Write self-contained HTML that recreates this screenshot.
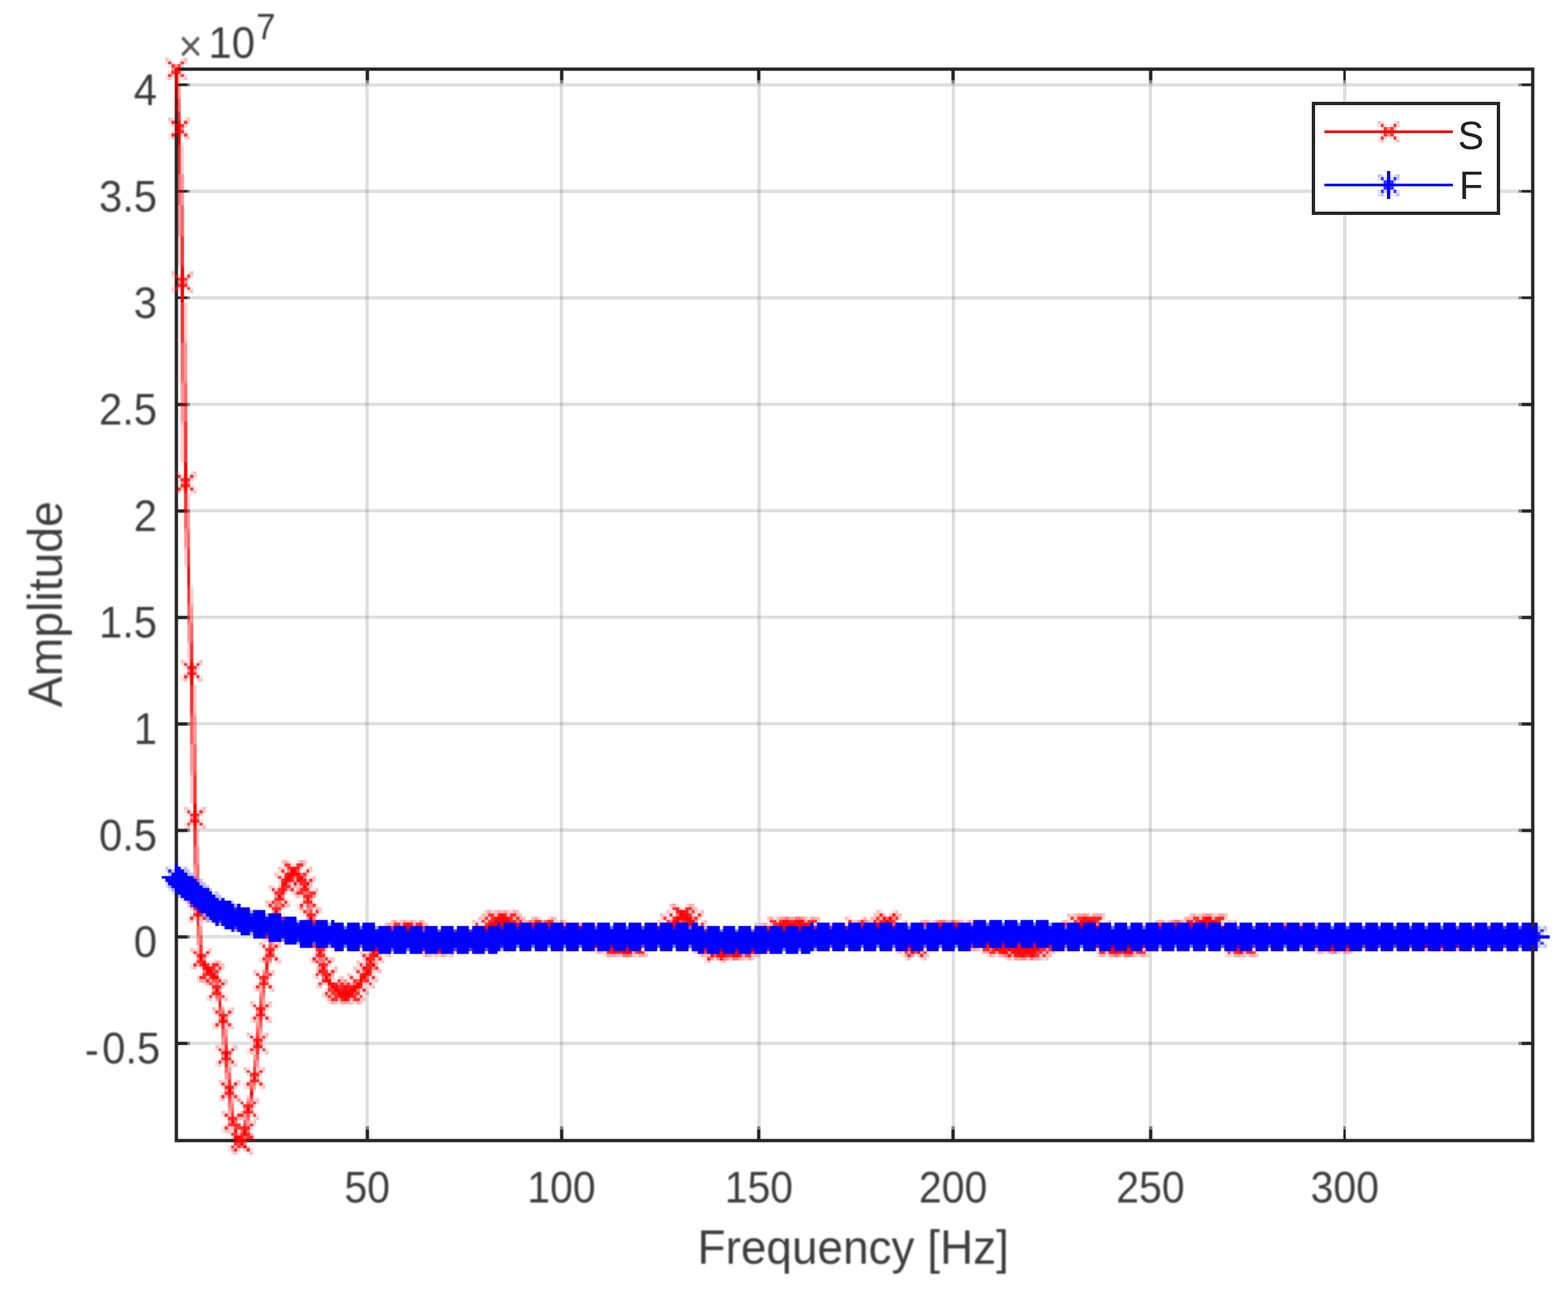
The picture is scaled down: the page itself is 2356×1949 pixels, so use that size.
<!DOCTYPE html>
<html lang="en">
<head>
<meta charset="utf-8">
<title>Amplitude vs Frequency</title>
<style>
html,body{margin:0;padding:0;background:#fff;}
body{width:2356px;height:1949px;overflow:hidden;}
svg{display:block;position:absolute;left:0;top:0;}
text{font-family:"Liberation Sans",Arial,Helvetica,sans-serif;}
.tk{font-size:62.8px;fill:#3e3e3e;}
.lb{font-size:69px;fill:#3e3e3e;}
.lg{font-size:56.5px;fill:#222;}
</style>
</head>
<body>
<svg width="2356" height="1949" viewBox="0 0 2356 1949">
<defs>
<filter id="soft" x="-2%" y="-2%" width="104%" height="104%" color-interpolation-filters="sRGB"><feGaussianBlur stdDeviation="0.55"/></filter>
<filter id="softt" x="-10%" y="-10%" width="120%" height="120%" color-interpolation-filters="sRGB"><feGaussianBlur stdDeviation="0.9"/></filter>
<g id="mx"><rect x="-3" y="-3" width="1" height="1" fill="#ff0000" opacity="0.25"/><rect x="-2" y="-3" width="1" height="1" fill="#ff0000" opacity="0.12"/><rect x="2" y="-3" width="1" height="1" fill="#ff0000" opacity="0.12"/><rect x="3" y="-3" width="1" height="1" fill="#ff0000" opacity="0.25"/><rect x="-3" y="-2" width="1" height="1" fill="#ff0000" opacity="0.12"/><rect x="-2" y="-2" width="1" height="1" fill="#ff0000" opacity="0.78"/><rect x="-1" y="-2" width="1" height="1" fill="#ff0000" opacity="0.12"/><rect x="1" y="-2" width="1" height="1" fill="#ff0000" opacity="0.12"/><rect x="2" y="-2" width="1" height="1" fill="#ff0000" opacity="0.8"/><rect x="3" y="-2" width="1" height="1" fill="#ff0000" opacity="0.2"/><rect x="-2" y="-1" width="1" height="1" fill="#ff0000" opacity="0.12"/><rect x="-1" y="-1" width="1" height="1" fill="#ff0000" opacity="0.8"/><rect x="0" y="-1" width="1" height="1" fill="#ff0000" opacity="0.45"/><rect x="1" y="-1" width="1" height="1" fill="#ff0000" opacity="0.8"/><rect x="2" y="-1" width="1" height="1" fill="#ff0000" opacity="0.2"/><rect x="-1" y="0" width="1" height="1" fill="#ff0000" opacity="0.45"/><rect x="0" y="0" width="1" height="1" fill="#ff0000" opacity="1"/><rect x="1" y="0" width="1" height="1" fill="#ff0000" opacity="0.45"/><rect x="-2" y="1" width="1" height="1" fill="#ff0000" opacity="0.12"/><rect x="-1" y="1" width="1" height="1" fill="#ff0000" opacity="0.8"/><rect x="0" y="1" width="1" height="1" fill="#ff0000" opacity="0.45"/><rect x="1" y="1" width="1" height="1" fill="#ff0000" opacity="0.8"/><rect x="2" y="1" width="1" height="1" fill="#ff0000" opacity="0.12"/><rect x="-3" y="2" width="1" height="1" fill="#ff0000" opacity="0.12"/><rect x="-2" y="2" width="1" height="1" fill="#ff0000" opacity="0.8"/><rect x="-1" y="2" width="1" height="1" fill="#ff0000" opacity="0.2"/><rect x="1" y="2" width="1" height="1" fill="#ff0000" opacity="0.12"/><rect x="2" y="2" width="1" height="1" fill="#ff0000" opacity="0.78"/><rect x="3" y="2" width="1" height="1" fill="#ff0000" opacity="0.12"/><rect x="-3" y="3" width="1" height="1" fill="#ff0000" opacity="0.12"/><rect x="-2" y="3" width="1" height="1" fill="#ff0000" opacity="0.25"/><rect x="2" y="3" width="1" height="1" fill="#ff0000" opacity="0.12"/><rect x="3" y="3" width="1" height="1" fill="#ff0000" opacity="0.25"/></g>
<g id="ms"><rect x="0" y="-4" width="1" height="9" fill="#0000ff"/><rect x="-4" y="0" width="9" height="1" fill="#0000ff"/><rect x="-3" y="-3" width="1" height="1" fill="#0000ff" opacity="0.25"/><rect x="-2" y="-3" width="1" height="1" fill="#0000ff" opacity="0.12"/><rect x="2" y="-3" width="1" height="1" fill="#0000ff" opacity="0.12"/><rect x="3" y="-3" width="1" height="1" fill="#0000ff" opacity="0.25"/><rect x="-3" y="-2" width="1" height="1" fill="#0000ff" opacity="0.12"/><rect x="-2" y="-2" width="1" height="1" fill="#0000ff" opacity="0.78"/><rect x="-1" y="-2" width="1" height="1" fill="#0000ff" opacity="0.12"/><rect x="1" y="-2" width="1" height="1" fill="#0000ff" opacity="0.12"/><rect x="2" y="-2" width="1" height="1" fill="#0000ff" opacity="0.8"/><rect x="3" y="-2" width="1" height="1" fill="#0000ff" opacity="0.2"/><rect x="-2" y="-1" width="1" height="1" fill="#0000ff" opacity="0.12"/><rect x="-1" y="-1" width="1" height="1" fill="#0000ff" opacity="0.8"/><rect x="0" y="-1" width="1" height="1" fill="#0000ff" opacity="0.45"/><rect x="1" y="-1" width="1" height="1" fill="#0000ff" opacity="0.8"/><rect x="2" y="-1" width="1" height="1" fill="#0000ff" opacity="0.2"/><rect x="-1" y="0" width="1" height="1" fill="#0000ff" opacity="0.45"/><rect x="0" y="0" width="1" height="1" fill="#0000ff" opacity="1"/><rect x="1" y="0" width="1" height="1" fill="#0000ff" opacity="0.45"/><rect x="-2" y="1" width="1" height="1" fill="#0000ff" opacity="0.12"/><rect x="-1" y="1" width="1" height="1" fill="#0000ff" opacity="0.8"/><rect x="0" y="1" width="1" height="1" fill="#0000ff" opacity="0.45"/><rect x="1" y="1" width="1" height="1" fill="#0000ff" opacity="0.8"/><rect x="2" y="1" width="1" height="1" fill="#0000ff" opacity="0.12"/><rect x="-3" y="2" width="1" height="1" fill="#0000ff" opacity="0.12"/><rect x="-2" y="2" width="1" height="1" fill="#0000ff" opacity="0.8"/><rect x="-1" y="2" width="1" height="1" fill="#0000ff" opacity="0.2"/><rect x="1" y="2" width="1" height="1" fill="#0000ff" opacity="0.12"/><rect x="2" y="2" width="1" height="1" fill="#0000ff" opacity="0.78"/><rect x="3" y="2" width="1" height="1" fill="#0000ff" opacity="0.12"/><rect x="-3" y="3" width="1" height="1" fill="#0000ff" opacity="0.12"/><rect x="-2" y="3" width="1" height="1" fill="#0000ff" opacity="0.25"/><rect x="2" y="3" width="1" height="1" fill="#0000ff" opacity="0.12"/><rect x="3" y="3" width="1" height="1" fill="#0000ff" opacity="0.25"/></g>
</defs>
<rect x="0" y="0" width="2356" height="1949" fill="#fff"/>
<g filter="url(#soft)">
<g transform="translate(262.3,101.5) scale(4.7075)" shape-rendering="crispEdges">
<rect x="61" y="1" width="1" height="341" fill="#262626" opacity="0.15"/>
<rect x="123" y="1" width="1" height="341" fill="#262626" opacity="0.15"/>
<rect x="186" y="1" width="1" height="341" fill="#262626" opacity="0.15"/>
<rect x="248" y="1" width="1" height="341" fill="#262626" opacity="0.15"/>
<rect x="311" y="1" width="1" height="341" fill="#262626" opacity="0.15"/>
<rect x="373" y="1" width="1" height="341" fill="#262626" opacity="0.15"/>
<rect x="1" y="5" width="432" height="1" fill="#262626" opacity="0.15"/>
<rect x="1" y="39" width="432" height="1" fill="#262626" opacity="0.15"/>
<rect x="1" y="73" width="432" height="1" fill="#262626" opacity="0.15"/>
<rect x="1" y="107" width="432" height="1" fill="#262626" opacity="0.15"/>
<rect x="1" y="141" width="432" height="1" fill="#262626" opacity="0.15"/>
<rect x="1" y="175" width="432" height="1" fill="#262626" opacity="0.15"/>
<rect x="1" y="209" width="432" height="1" fill="#262626" opacity="0.15"/>
<rect x="1" y="243" width="432" height="1" fill="#262626" opacity="0.15"/>
<rect x="1" y="277" width="432" height="1" fill="#262626" opacity="0.15"/>
<rect x="1" y="311" width="432" height="1" fill="#262626" opacity="0.15"/>
<rect x="0" y="0" width="434" height="1" fill="#262626"/>
<rect x="0" y="342" width="434" height="1" fill="#262626"/>
<rect x="0" y="0" width="1" height="343" fill="#262626"/>
<rect x="433" y="0" width="1" height="343" fill="#262626"/>
<rect x="61" y="1" width="1" height="3" fill="#262626"/>
<rect x="61" y="4" width="1" height="1" fill="#262626" opacity=".5"/>
<rect x="61" y="339" width="1" height="3" fill="#262626"/>
<rect x="61" y="338" width="1" height="1" fill="#262626" opacity=".5"/>
<rect x="123" y="1" width="1" height="3" fill="#262626"/>
<rect x="123" y="4" width="1" height="1" fill="#262626" opacity=".5"/>
<rect x="123" y="339" width="1" height="3" fill="#262626"/>
<rect x="123" y="338" width="1" height="1" fill="#262626" opacity=".5"/>
<rect x="186" y="1" width="1" height="3" fill="#262626"/>
<rect x="186" y="4" width="1" height="1" fill="#262626" opacity=".5"/>
<rect x="186" y="339" width="1" height="3" fill="#262626"/>
<rect x="186" y="338" width="1" height="1" fill="#262626" opacity=".5"/>
<rect x="248" y="1" width="1" height="3" fill="#262626"/>
<rect x="248" y="4" width="1" height="1" fill="#262626" opacity=".5"/>
<rect x="248" y="339" width="1" height="3" fill="#262626"/>
<rect x="248" y="338" width="1" height="1" fill="#262626" opacity=".5"/>
<rect x="311" y="1" width="1" height="3" fill="#262626"/>
<rect x="311" y="4" width="1" height="1" fill="#262626" opacity=".5"/>
<rect x="311" y="339" width="1" height="3" fill="#262626"/>
<rect x="311" y="338" width="1" height="1" fill="#262626" opacity=".5"/>
<rect x="373" y="1" width="1" height="3" fill="#262626"/>
<rect x="373" y="4" width="1" height="1" fill="#262626" opacity=".5"/>
<rect x="373" y="339" width="1" height="3" fill="#262626"/>
<rect x="373" y="338" width="1" height="1" fill="#262626" opacity=".5"/>
<rect x="1" y="5" width="3" height="1" fill="#262626"/>
<rect x="4" y="5" width="1" height="1" fill="#262626" opacity=".5"/>
<rect x="430" y="5" width="3" height="1" fill="#262626"/>
<rect x="429" y="5" width="1" height="1" fill="#262626" opacity=".5"/>
<rect x="1" y="39" width="3" height="1" fill="#262626"/>
<rect x="4" y="39" width="1" height="1" fill="#262626" opacity=".5"/>
<rect x="430" y="39" width="3" height="1" fill="#262626"/>
<rect x="429" y="39" width="1" height="1" fill="#262626" opacity=".5"/>
<rect x="1" y="73" width="3" height="1" fill="#262626"/>
<rect x="4" y="73" width="1" height="1" fill="#262626" opacity=".5"/>
<rect x="430" y="73" width="3" height="1" fill="#262626"/>
<rect x="429" y="73" width="1" height="1" fill="#262626" opacity=".5"/>
<rect x="1" y="107" width="3" height="1" fill="#262626"/>
<rect x="4" y="107" width="1" height="1" fill="#262626" opacity=".5"/>
<rect x="430" y="107" width="3" height="1" fill="#262626"/>
<rect x="429" y="107" width="1" height="1" fill="#262626" opacity=".5"/>
<rect x="1" y="141" width="3" height="1" fill="#262626"/>
<rect x="4" y="141" width="1" height="1" fill="#262626" opacity=".5"/>
<rect x="430" y="141" width="3" height="1" fill="#262626"/>
<rect x="429" y="141" width="1" height="1" fill="#262626" opacity=".5"/>
<rect x="1" y="175" width="3" height="1" fill="#262626"/>
<rect x="4" y="175" width="1" height="1" fill="#262626" opacity=".5"/>
<rect x="430" y="175" width="3" height="1" fill="#262626"/>
<rect x="429" y="175" width="1" height="1" fill="#262626" opacity=".5"/>
<rect x="1" y="209" width="3" height="1" fill="#262626"/>
<rect x="4" y="209" width="1" height="1" fill="#262626" opacity=".5"/>
<rect x="430" y="209" width="3" height="1" fill="#262626"/>
<rect x="429" y="209" width="1" height="1" fill="#262626" opacity=".5"/>
<rect x="1" y="243" width="3" height="1" fill="#262626"/>
<rect x="4" y="243" width="1" height="1" fill="#262626" opacity=".5"/>
<rect x="430" y="243" width="3" height="1" fill="#262626"/>
<rect x="429" y="243" width="1" height="1" fill="#262626" opacity=".5"/>
<rect x="1" y="277" width="3" height="1" fill="#262626"/>
<rect x="4" y="277" width="1" height="1" fill="#262626" opacity=".5"/>
<rect x="430" y="277" width="3" height="1" fill="#262626"/>
<rect x="429" y="277" width="1" height="1" fill="#262626" opacity=".5"/>
<rect x="1" y="311" width="3" height="1" fill="#262626"/>
<rect x="4" y="311" width="1" height="1" fill="#262626" opacity=".5"/>
<rect x="430" y="311" width="3" height="1" fill="#262626"/>
<rect x="429" y="311" width="1" height="1" fill="#262626" opacity=".5"/>
<rect x="0" y="0" width="1" height="1" fill="#f00" opacity="0.9"/>
<rect x="0" y="1" width="1" height="1" fill="#f00"/>
<rect x="0" y="2" width="1" height="1" fill="#f00" opacity="0.9"/>
<rect x="0" y="3" width="1" height="3" fill="#f00" opacity="0.8"/>
<rect x="0" y="6" width="1" height="4" fill="#f00" opacity="0.6"/>
<rect x="0" y="10" width="1" height="4" fill="#f00" opacity="0.4"/>
<rect x="0" y="14" width="1" height="3" fill="#f00" opacity="0.2"/>
<rect x="0" y="17" width="1" height="1" fill="#f00" opacity="0.1"/>
<rect x="1" y="2" width="1" height="1" fill="#f00" opacity="0.1"/>
<rect x="1" y="3" width="1" height="3" fill="#f00" opacity="0.2"/>
<rect x="1" y="6" width="1" height="4" fill="#f00" opacity="0.4"/>
<rect x="1" y="10" width="1" height="4" fill="#f00" opacity="0.6"/>
<rect x="1" y="14" width="1" height="3" fill="#f00" opacity="0.8"/>
<rect x="1" y="17" width="1" height="1" fill="#f00" opacity="0.9"/>
<rect x="1" y="18" width="1" height="6" fill="#f00"/>
<rect x="1" y="24" width="1" height="1" fill="#f00" opacity="0.9"/>
<rect x="1" y="25" width="1" height="9" fill="#f00" opacity="0.8"/>
<rect x="1" y="34" width="1" height="10" fill="#f00" opacity="0.6"/>
<rect x="1" y="44" width="1" height="10" fill="#f00" opacity="0.4"/>
<rect x="1" y="54" width="1" height="9" fill="#f00" opacity="0.2"/>
<rect x="1" y="63" width="1" height="1" fill="#f00" opacity="0.1"/>
<rect x="2" y="24" width="1" height="1" fill="#f00" opacity="0.1"/>
<rect x="2" y="25" width="1" height="9" fill="#f00" opacity="0.2"/>
<rect x="2" y="34" width="1" height="10" fill="#f00" opacity="0.4"/>
<rect x="2" y="44" width="1" height="10" fill="#f00" opacity="0.6"/>
<rect x="2" y="54" width="1" height="9" fill="#f00" opacity="0.8"/>
<rect x="2" y="63" width="1" height="1" fill="#f00" opacity="0.9"/>
<rect x="2" y="64" width="1" height="11" fill="#f00"/>
<rect x="2" y="75" width="1" height="13" fill="#f00" opacity="0.8"/>
<rect x="2" y="88" width="1" height="12" fill="#f00" opacity="0.6"/>
<rect x="2" y="100" width="1" height="1" fill="#f00" opacity="0.5"/>
<rect x="2" y="101" width="1" height="12" fill="#f00" opacity="0.4"/>
<rect x="2" y="113" width="1" height="1" fill="#f00" opacity="0.3"/>
<rect x="2" y="114" width="1" height="12" fill="#f00" opacity="0.2"/>
<rect x="3" y="75" width="1" height="12" fill="#f00" opacity="0.2"/>
<rect x="3" y="87" width="1" height="1" fill="#f00" opacity="0.3"/>
<rect x="3" y="88" width="1" height="12" fill="#f00" opacity="0.4"/>
<rect x="3" y="100" width="1" height="1" fill="#f00" opacity="0.5"/>
<rect x="3" y="101" width="1" height="12" fill="#f00" opacity="0.6"/>
<rect x="3" y="113" width="1" height="13" fill="#f00" opacity="0.8"/>
<rect x="3" y="126" width="1" height="9" fill="#f00"/>
<rect x="3" y="135" width="1" height="1" fill="#f00" opacity="0.9"/>
<rect x="3" y="136" width="1" height="5" fill="#f00" opacity="0.8"/>
<rect x="3" y="141" width="1" height="1" fill="#f00" opacity="0.7"/>
<rect x="3" y="142" width="1" height="5" fill="#f00" opacity="0.6"/>
<rect x="3" y="147" width="1" height="1" fill="#f00" opacity="0.5"/>
<rect x="3" y="148" width="1" height="5" fill="#f00" opacity="0.4"/>
<rect x="3" y="153" width="1" height="1" fill="#f00" opacity="0.3"/>
<rect x="3" y="154" width="1" height="5" fill="#f00" opacity="0.2"/>
<rect x="3" y="159" width="1" height="1" fill="#f00" opacity="0.1"/>
<rect x="4" y="135" width="1" height="1" fill="#f00" opacity="0.1"/>
<rect x="4" y="136" width="1" height="5" fill="#f00" opacity="0.2"/>
<rect x="4" y="141" width="1" height="1" fill="#f00" opacity="0.3"/>
<rect x="4" y="142" width="1" height="5" fill="#f00" opacity="0.4"/>
<rect x="4" y="147" width="1" height="1" fill="#f00" opacity="0.5"/>
<rect x="4" y="148" width="1" height="5" fill="#f00" opacity="0.6"/>
<rect x="4" y="153" width="1" height="1" fill="#f00" opacity="0.7"/>
<rect x="4" y="154" width="1" height="5" fill="#f00" opacity="0.8"/>
<rect x="4" y="159" width="1" height="1" fill="#f00" opacity="0.9"/>
<rect x="4" y="160" width="1" height="5" fill="#f00"/>
<rect x="4" y="165" width="1" height="1" fill="#f00" opacity="0.9"/>
<rect x="4" y="166" width="1" height="5" fill="#f00" opacity="0.8"/>
<rect x="4" y="171" width="1" height="1" fill="#f00" opacity="0.7"/>
<rect x="4" y="172" width="1" height="5" fill="#f00" opacity="0.6"/>
<rect x="4" y="177" width="1" height="1" fill="#f00" opacity="0.5"/>
<rect x="4" y="178" width="1" height="5" fill="#f00" opacity="0.4"/>
<rect x="4" y="183" width="1" height="1" fill="#f00" opacity="0.3"/>
<rect x="4" y="184" width="1" height="5" fill="#f00" opacity="0.2"/>
<rect x="4" y="189" width="1" height="1" fill="#f00" opacity="0.1"/>
<rect x="5" y="165" width="1" height="1" fill="#f00" opacity="0.1"/>
<rect x="5" y="166" width="1" height="5" fill="#f00" opacity="0.2"/>
<rect x="5" y="171" width="1" height="1" fill="#f00" opacity="0.3"/>
<rect x="5" y="172" width="1" height="5" fill="#f00" opacity="0.4"/>
<rect x="5" y="177" width="1" height="1" fill="#f00" opacity="0.5"/>
<rect x="5" y="178" width="1" height="5" fill="#f00" opacity="0.6"/>
<rect x="5" y="183" width="1" height="1" fill="#f00" opacity="0.7"/>
<rect x="5" y="184" width="1" height="5" fill="#f00" opacity="0.8"/>
<rect x="5" y="189" width="1" height="1" fill="#f00" opacity="0.9"/>
<rect x="5" y="190" width="1" height="7" fill="#f00"/>
<rect x="5" y="197" width="1" height="9" fill="#f00" opacity="0.8"/>
<rect x="5" y="206" width="1" height="1" fill="#f00" opacity="0.7"/>
<rect x="5" y="207" width="1" height="9" fill="#f00" opacity="0.6"/>
<rect x="5" y="216" width="1" height="9" fill="#f00" opacity="0.4"/>
<rect x="5" y="225" width="1" height="1" fill="#f00" opacity="0.3"/>
<rect x="5" y="226" width="1" height="9" fill="#f00" opacity="0.2"/>
<rect x="6" y="197" width="1" height="9" fill="#f00" opacity="0.2"/>
<rect x="6" y="206" width="1" height="1" fill="#f00" opacity="0.3"/>
<rect x="6" y="207" width="1" height="9" fill="#f00" opacity="0.4"/>
<rect x="6" y="216" width="1" height="9" fill="#f00" opacity="0.6"/>
<rect x="6" y="225" width="1" height="1" fill="#f00" opacity="0.7"/>
<rect x="6" y="226" width="1" height="9" fill="#f00" opacity="0.8"/>
<rect x="6" y="235" width="1" height="7" fill="#f00"/>
<rect x="6" y="242" width="1" height="1" fill="#f00" opacity="0.9"/>
<rect x="6" y="243" width="1" height="5" fill="#f00" opacity="0.8"/>
<rect x="6" y="248" width="1" height="1" fill="#f00" opacity="0.7"/>
<rect x="6" y="249" width="1" height="5" fill="#f00" opacity="0.6"/>
<rect x="6" y="254" width="1" height="1" fill="#f00" opacity="0.5"/>
<rect x="6" y="255" width="1" height="4" fill="#f00" opacity="0.4"/>
<rect x="7" y="242" width="1" height="1" fill="#f00" opacity="0.1"/>
<rect x="7" y="243" width="1" height="5" fill="#f00" opacity="0.2"/>
<rect x="7" y="248" width="1" height="1" fill="#f00" opacity="0.3"/>
<rect x="7" y="249" width="1" height="5" fill="#f00" opacity="0.4"/>
<rect x="7" y="254" width="1" height="1" fill="#f00" opacity="0.5"/>
<rect x="7" y="255" width="1" height="5" fill="#f00" opacity="0.6"/>
<rect x="7" y="269" width="1" height="2" fill="#f00"/>
<rect x="7" y="271" width="1" height="3" fill="#f00" opacity="0.8"/>
<rect x="7" y="274" width="1" height="3" fill="#f00" opacity="0.6"/>
<rect x="7" y="277" width="1" height="3" fill="#f00" opacity="0.4"/>
<rect x="7" y="280" width="1" height="3" fill="#f00" opacity="0.2"/>
<rect x="8" y="271" width="1" height="3" fill="#f00" opacity="0.2"/>
<rect x="8" y="274" width="1" height="3" fill="#f00" opacity="0.4"/>
<rect x="8" y="277" width="1" height="3" fill="#f00" opacity="0.6"/>
<rect x="8" y="280" width="1" height="3" fill="#f00" opacity="0.8"/>
<rect x="8" y="283" width="1" height="2" fill="#f00"/>
<rect x="8" y="285" width="1" height="1" fill="#f00" opacity="0.6"/>
<rect x="8" y="286" width="1" height="1" fill="#f00" opacity="0.1"/>
<rect x="9" y="284" width="1" height="1" fill="#f00" opacity="0.1"/>
<rect x="9" y="285" width="1" height="1" fill="#f00" opacity="0.6"/>
<rect x="9" y="286" width="1" height="1" fill="#f00" opacity="0.9"/>
<rect x="9" y="287" width="1" height="1" fill="#f00" opacity="0.6"/>
<rect x="9" y="288" width="1" height="1" fill="#f00" opacity="0.1"/>
<rect x="10" y="286" width="1" height="1" fill="#f00" opacity="0.1"/>
<rect x="10" y="287" width="1" height="1" fill="#f00" opacity="0.6"/>
<rect x="10" y="288" width="1" height="1" fill="#f00"/>
<rect x="11" y="288" width="1" height="1" fill="#f00"/>
<rect x="11" y="289" width="1" height="1" fill="#f00" opacity="0.2"/>
<rect x="12" y="288" width="1" height="1" fill="#f00" opacity="0.2"/>
<rect x="12" y="289" width="1" height="1" fill="#f00"/>
<rect x="12" y="290" width="1" height="1" fill="#f00" opacity="0.8"/>
<rect x="12" y="291" width="1" height="1" fill="#f00" opacity="0.6"/>
<rect x="12" y="292" width="1" height="1" fill="#f00" opacity="0.4"/>
<rect x="12" y="293" width="1" height="1" fill="#f00" opacity="0.2"/>
<rect x="13" y="290" width="1" height="1" fill="#f00" opacity="0.2"/>
<rect x="13" y="291" width="1" height="1" fill="#f00" opacity="0.4"/>
<rect x="13" y="292" width="1" height="1" fill="#f00" opacity="0.6"/>
<rect x="13" y="293" width="1" height="1" fill="#f00" opacity="0.8"/>
<rect x="13" y="294" width="1" height="1" fill="#f00"/>
<rect x="13" y="295" width="1" height="1" fill="#f00" opacity="0.8"/>
<rect x="13" y="296" width="1" height="1" fill="#f00" opacity="0.6"/>
<rect x="13" y="297" width="1" height="1" fill="#f00" opacity="0.4"/>
<rect x="13" y="298" width="1" height="1" fill="#f00" opacity="0.1"/>
<rect x="14" y="295" width="1" height="1" fill="#f00" opacity="0.2"/>
<rect x="14" y="296" width="1" height="1" fill="#f00" opacity="0.5"/>
<rect x="14" y="297" width="1" height="1" fill="#f00" opacity="0.7"/>
<rect x="14" y="298" width="1" height="2" fill="#f00" opacity="0.9"/>
<rect x="14" y="300" width="1" height="1" fill="#f00" opacity="0.7"/>
<rect x="14" y="301" width="1" height="1" fill="#f00" opacity="0.5"/>
<rect x="14" y="302" width="1" height="1" fill="#f00" opacity="0.2"/>
<rect x="15" y="299" width="1" height="1" fill="#f00" opacity="0.1"/>
<rect x="15" y="300" width="1" height="1" fill="#f00" opacity="0.4"/>
<rect x="15" y="301" width="1" height="1" fill="#f00" opacity="0.6"/>
<rect x="15" y="302" width="1" height="1" fill="#f00" opacity="0.8"/>
<rect x="15" y="303" width="1" height="2" fill="#f00"/>
<rect x="15" y="305" width="1" height="2" fill="#f00" opacity="0.8"/>
<rect x="15" y="307" width="1" height="2" fill="#f00" opacity="0.6"/>
<rect x="15" y="309" width="1" height="1" fill="#f00" opacity="0.5"/>
<rect x="15" y="310" width="1" height="2" fill="#f00" opacity="0.4"/>
<rect x="15" y="312" width="1" height="2" fill="#f00" opacity="0.2"/>
<rect x="15" y="314" width="1" height="1" fill="#f00" opacity="0.1"/>
<rect x="16" y="304" width="1" height="1" fill="#f00" opacity="0.1"/>
<rect x="16" y="305" width="1" height="2" fill="#f00" opacity="0.2"/>
<rect x="16" y="307" width="1" height="2" fill="#f00" opacity="0.4"/>
<rect x="16" y="309" width="1" height="1" fill="#f00" opacity="0.5"/>
<rect x="16" y="310" width="1" height="2" fill="#f00" opacity="0.6"/>
<rect x="16" y="312" width="1" height="2" fill="#f00" opacity="0.8"/>
<rect x="16" y="314" width="1" height="2" fill="#f00"/>
<rect x="16" y="316" width="1" height="1" fill="#f00" opacity="0.9"/>
<rect x="16" y="317" width="1" height="2" fill="#f00" opacity="0.8"/>
<rect x="16" y="319" width="1" height="2" fill="#f00" opacity="0.6"/>
<rect x="16" y="321" width="1" height="2" fill="#f00" opacity="0.4"/>
<rect x="16" y="323" width="1" height="2" fill="#f00" opacity="0.2"/>
<rect x="16" y="325" width="1" height="1" fill="#f00" opacity="0.1"/>
<rect x="17" y="316" width="1" height="1" fill="#f00" opacity="0.1"/>
<rect x="17" y="317" width="1" height="2" fill="#f00" opacity="0.2"/>
<rect x="17" y="319" width="1" height="2" fill="#f00" opacity="0.4"/>
<rect x="17" y="321" width="1" height="2" fill="#f00" opacity="0.6"/>
<rect x="17" y="323" width="1" height="2" fill="#f00" opacity="0.8"/>
<rect x="17" y="325" width="1" height="1" fill="#f00" opacity="0.9"/>
<rect x="17" y="326" width="1" height="1" fill="#f00"/>
<rect x="17" y="327" width="1" height="1" fill="#f00" opacity="0.9"/>
<rect x="17" y="328" width="1" height="1" fill="#f00" opacity="0.8"/>
<rect x="17" y="329" width="1" height="1" fill="#f00" opacity="0.7"/>
<rect x="17" y="330" width="1" height="1" fill="#f00" opacity="0.6"/>
<rect x="17" y="331" width="1" height="1" fill="#f00" opacity="0.5"/>
<rect x="17" y="332" width="1" height="1" fill="#f00" opacity="0.4"/>
<rect x="17" y="333" width="1" height="1" fill="#f00" opacity="0.3"/>
<rect x="17" y="334" width="1" height="1" fill="#f00" opacity="0.2"/>
<rect x="17" y="335" width="1" height="1" fill="#f00" opacity="0.1"/>
<rect x="18" y="327" width="1" height="1" fill="#f00" opacity="0.1"/>
<rect x="18" y="328" width="1" height="1" fill="#f00" opacity="0.2"/>
<rect x="18" y="329" width="1" height="1" fill="#f00" opacity="0.3"/>
<rect x="18" y="330" width="1" height="1" fill="#f00" opacity="0.4"/>
<rect x="18" y="331" width="1" height="1" fill="#f00" opacity="0.5"/>
<rect x="18" y="332" width="1" height="1" fill="#f00" opacity="0.6"/>
<rect x="18" y="333" width="1" height="1" fill="#f00" opacity="0.7"/>
<rect x="18" y="334" width="1" height="1" fill="#f00" opacity="0.8"/>
<rect x="18" y="335" width="1" height="1" fill="#f00" opacity="0.9"/>
<rect x="18" y="336" width="1" height="1" fill="#f00"/>
<rect x="18" y="337" width="1" height="1" fill="#f00" opacity="0.7"/>
<rect x="18" y="338" width="1" height="1" fill="#f00" opacity="0.3"/>
<rect x="19" y="337" width="1" height="1" fill="#f00" opacity="0.3"/>
<rect x="19" y="338" width="1" height="1" fill="#f00" opacity="0.7"/>
<rect x="19" y="339" width="1" height="1" fill="#f00" opacity="0.9"/>
<rect x="19" y="340" width="1" height="1" fill="#f00" opacity="0.7"/>
<rect x="19" y="341" width="1" height="1" fill="#f00" opacity="0.3"/>
<rect x="20" y="340" width="1" height="1" fill="#f00" opacity="0.3"/>
<rect x="20" y="341" width="1" height="1" fill="#f00" opacity="0.7"/>
<rect x="20" y="342" width="1" height="1" fill="#f00" opacity="0.9"/>
<rect x="20" y="343" width="1" height="1" fill="#f00" opacity="0.2"/>
<rect x="21" y="340" width="1" height="1" fill="#f00" opacity="0.3"/>
<rect x="21" y="341" width="1" height="1" fill="#f00" opacity="0.5"/>
<rect x="21" y="342" width="1" height="2" fill="#f00" opacity="0.9"/>
<rect x="22" y="333" width="1" height="1" fill="#f00" opacity="0.2"/>
<rect x="22" y="334" width="1" height="1" fill="#f00" opacity="0.3"/>
<rect x="22" y="335" width="1" height="1" fill="#f00" opacity="0.4"/>
<rect x="22" y="336" width="1" height="1" fill="#f00" opacity="0.6"/>
<rect x="22" y="337" width="1" height="1" fill="#f00" opacity="0.7"/>
<rect x="22" y="338" width="1" height="1" fill="#f00" opacity="0.8"/>
<rect x="22" y="339" width="1" height="1" fill="#f00"/>
<rect x="22" y="340" width="1" height="1" fill="#f00" opacity="0.8"/>
<rect x="22" y="341" width="1" height="1" fill="#f00" opacity="0.5"/>
<rect x="22" y="342" width="1" height="1" fill="#f00" opacity="0.3"/>
<rect x="23" y="328" width="1" height="1" fill="#f00" opacity="0.2"/>
<rect x="23" y="329" width="1" height="1" fill="#f00" opacity="0.4"/>
<rect x="23" y="330" width="1" height="1" fill="#f00" opacity="0.6"/>
<rect x="23" y="331" width="1" height="1" fill="#f00" opacity="0.8"/>
<rect x="23" y="332" width="1" height="1" fill="#f00"/>
<rect x="23" y="333" width="1" height="1" fill="#f00" opacity="0.8"/>
<rect x="23" y="334" width="1" height="1" fill="#f00" opacity="0.7"/>
<rect x="23" y="335" width="1" height="1" fill="#f00" opacity="0.6"/>
<rect x="23" y="336" width="1" height="1" fill="#f00" opacity="0.4"/>
<rect x="23" y="337" width="1" height="1" fill="#f00" opacity="0.3"/>
<rect x="23" y="338" width="1" height="1" fill="#f00" opacity="0.2"/>
<rect x="24" y="323" width="1" height="1" fill="#f00" opacity="0.2"/>
<rect x="24" y="324" width="1" height="1" fill="#f00" opacity="0.4"/>
<rect x="24" y="325" width="1" height="1" fill="#f00" opacity="0.6"/>
<rect x="24" y="326" width="1" height="1" fill="#f00" opacity="0.8"/>
<rect x="24" y="327" width="1" height="1" fill="#f00"/>
<rect x="24" y="328" width="1" height="1" fill="#f00" opacity="0.8"/>
<rect x="24" y="329" width="1" height="1" fill="#f00" opacity="0.6"/>
<rect x="24" y="330" width="1" height="1" fill="#f00" opacity="0.4"/>
<rect x="24" y="331" width="1" height="1" fill="#f00" opacity="0.2"/>
<rect x="25" y="312" width="1" height="1" fill="#f00" opacity="0.1"/>
<rect x="25" y="313" width="1" height="2" fill="#f00" opacity="0.2"/>
<rect x="25" y="315" width="1" height="2" fill="#f00" opacity="0.4"/>
<rect x="25" y="317" width="1" height="2" fill="#f00" opacity="0.6"/>
<rect x="25" y="319" width="1" height="2" fill="#f00" opacity="0.8"/>
<rect x="25" y="321" width="1" height="1" fill="#f00" opacity="0.9"/>
<rect x="25" y="322" width="1" height="1" fill="#f00"/>
<rect x="25" y="323" width="1" height="1" fill="#f00" opacity="0.8"/>
<rect x="25" y="324" width="1" height="1" fill="#f00" opacity="0.6"/>
<rect x="25" y="325" width="1" height="1" fill="#f00" opacity="0.4"/>
<rect x="25" y="326" width="1" height="1" fill="#f00" opacity="0.2"/>
<rect x="26" y="302" width="1" height="1" fill="#f00" opacity="0.1"/>
<rect x="26" y="303" width="1" height="1" fill="#f00" opacity="0.2"/>
<rect x="26" y="304" width="1" height="1" fill="#f00" opacity="0.3"/>
<rect x="26" y="305" width="1" height="1" fill="#f00" opacity="0.4"/>
<rect x="26" y="306" width="1" height="1" fill="#f00" opacity="0.5"/>
<rect x="26" y="307" width="1" height="1" fill="#f00" opacity="0.6"/>
<rect x="26" y="308" width="1" height="1" fill="#f00" opacity="0.7"/>
<rect x="26" y="309" width="1" height="1" fill="#f00" opacity="0.8"/>
<rect x="26" y="310" width="1" height="1" fill="#f00" opacity="0.9"/>
<rect x="26" y="311" width="1" height="1" fill="#f00"/>
<rect x="26" y="312" width="1" height="1" fill="#f00" opacity="0.9"/>
<rect x="26" y="313" width="1" height="2" fill="#f00" opacity="0.8"/>
<rect x="26" y="315" width="1" height="2" fill="#f00" opacity="0.6"/>
<rect x="26" y="317" width="1" height="2" fill="#f00" opacity="0.4"/>
<rect x="26" y="319" width="1" height="2" fill="#f00" opacity="0.2"/>
<rect x="26" y="321" width="1" height="1" fill="#f00" opacity="0.1"/>
<rect x="27" y="292" width="1" height="1" fill="#f00" opacity="0.1"/>
<rect x="27" y="293" width="1" height="1" fill="#f00" opacity="0.2"/>
<rect x="27" y="294" width="1" height="1" fill="#f00" opacity="0.3"/>
<rect x="27" y="295" width="1" height="1" fill="#f00" opacity="0.4"/>
<rect x="27" y="296" width="1" height="1" fill="#f00" opacity="0.5"/>
<rect x="27" y="297" width="1" height="1" fill="#f00" opacity="0.6"/>
<rect x="27" y="298" width="1" height="1" fill="#f00" opacity="0.7"/>
<rect x="27" y="299" width="1" height="1" fill="#f00" opacity="0.8"/>
<rect x="27" y="300" width="1" height="1" fill="#f00" opacity="0.9"/>
<rect x="27" y="301" width="1" height="1" fill="#f00"/>
<rect x="27" y="302" width="1" height="1" fill="#f00" opacity="0.9"/>
<rect x="27" y="303" width="1" height="1" fill="#f00" opacity="0.8"/>
<rect x="27" y="304" width="1" height="1" fill="#f00" opacity="0.7"/>
<rect x="27" y="305" width="1" height="1" fill="#f00" opacity="0.6"/>
<rect x="27" y="306" width="1" height="1" fill="#f00" opacity="0.5"/>
<rect x="27" y="307" width="1" height="1" fill="#f00" opacity="0.4"/>
<rect x="27" y="308" width="1" height="1" fill="#f00" opacity="0.3"/>
<rect x="27" y="309" width="1" height="1" fill="#f00" opacity="0.2"/>
<rect x="27" y="310" width="1" height="1" fill="#f00" opacity="0.1"/>
<rect x="28" y="287" width="1" height="1" fill="#f00" opacity="0.1"/>
<rect x="28" y="288" width="1" height="1" fill="#f00" opacity="0.4"/>
<rect x="28" y="289" width="1" height="1" fill="#f00" opacity="0.6"/>
<rect x="28" y="290" width="1" height="1" fill="#f00" opacity="0.8"/>
<rect x="28" y="291" width="1" height="1" fill="#f00"/>
<rect x="28" y="292" width="1" height="1" fill="#f00" opacity="0.9"/>
<rect x="28" y="293" width="1" height="1" fill="#f00" opacity="0.8"/>
<rect x="28" y="294" width="1" height="1" fill="#f00" opacity="0.7"/>
<rect x="28" y="295" width="1" height="1" fill="#f00" opacity="0.6"/>
<rect x="28" y="296" width="1" height="1" fill="#f00" opacity="0.5"/>
<rect x="28" y="297" width="1" height="1" fill="#f00" opacity="0.4"/>
<rect x="28" y="298" width="1" height="1" fill="#f00" opacity="0.3"/>
<rect x="28" y="299" width="1" height="1" fill="#f00" opacity="0.2"/>
<rect x="28" y="300" width="1" height="1" fill="#f00" opacity="0.1"/>
<rect x="29" y="283" width="1" height="1" fill="#f00" opacity="0.2"/>
<rect x="29" y="284" width="1" height="1" fill="#f00" opacity="0.5"/>
<rect x="29" y="285" width="1" height="1" fill="#f00" opacity="0.7"/>
<rect x="29" y="286" width="1" height="2" fill="#f00" opacity="0.9"/>
<rect x="29" y="288" width="1" height="1" fill="#f00" opacity="0.7"/>
<rect x="29" y="289" width="1" height="1" fill="#f00" opacity="0.5"/>
<rect x="29" y="290" width="1" height="1" fill="#f00" opacity="0.2"/>
<rect x="30" y="279" width="1" height="1" fill="#f00" opacity="0.6"/>
<rect x="30" y="280" width="1" height="1" fill="#f00" opacity="0.7"/>
<rect x="30" y="281" width="1" height="1" fill="#f00" opacity="0.8"/>
<rect x="30" y="282" width="1" height="1" fill="#f00"/>
<rect x="30" y="283" width="1" height="1" fill="#f00" opacity="0.8"/>
<rect x="30" y="284" width="1" height="1" fill="#f00" opacity="0.6"/>
<rect x="30" y="285" width="1" height="1" fill="#f00" opacity="0.4"/>
<rect x="30" y="286" width="1" height="1" fill="#f00" opacity="0.1"/>
<rect x="31" y="279" width="1" height="1" fill="#f00" opacity="0.4"/>
<rect x="31" y="280" width="1" height="1" fill="#f00" opacity="0.3"/>
<rect x="31" y="281" width="1" height="1" fill="#f00" opacity="0.2"/>
<rect x="32" y="265" width="1" height="1" fill="#f00" opacity="0.2"/>
<rect x="32" y="266" width="1" height="1" fill="#f00" opacity="0.4"/>
<rect x="32" y="267" width="1" height="1" fill="#f00" opacity="0.6"/>
<rect x="32" y="268" width="1" height="1" fill="#f00" opacity="0.8"/>
<rect x="32" y="269" width="1" height="1" fill="#f00"/>
<rect x="33" y="262" width="1" height="1" fill="#f00" opacity="0.1"/>
<rect x="33" y="263" width="1" height="1" fill="#f00" opacity="0.6"/>
<rect x="33" y="264" width="1" height="1" fill="#f00"/>
<rect x="33" y="265" width="1" height="1" fill="#f00" opacity="0.8"/>
<rect x="33" y="266" width="1" height="1" fill="#f00" opacity="0.6"/>
<rect x="33" y="267" width="1" height="1" fill="#f00" opacity="0.4"/>
<rect x="33" y="268" width="1" height="1" fill="#f00" opacity="0.2"/>
<rect x="34" y="260" width="1" height="1" fill="#f00" opacity="0.1"/>
<rect x="34" y="261" width="1" height="1" fill="#f00" opacity="0.6"/>
<rect x="34" y="262" width="1" height="1" fill="#f00" opacity="0.9"/>
<rect x="34" y="263" width="1" height="1" fill="#f00" opacity="0.6"/>
<rect x="34" y="264" width="1" height="1" fill="#f00" opacity="0.1"/>
<rect x="35" y="258" width="1" height="1" fill="#f00" opacity="0.1"/>
<rect x="35" y="259" width="1" height="1" fill="#f00" opacity="0.6"/>
<rect x="35" y="260" width="1" height="1" fill="#f00" opacity="0.9"/>
<rect x="35" y="261" width="1" height="1" fill="#f00" opacity="0.6"/>
<rect x="35" y="262" width="1" height="1" fill="#f00" opacity="0.1"/>
<rect x="36" y="256" width="1" height="1" fill="#f00" opacity="0.1"/>
<rect x="36" y="257" width="1" height="1" fill="#f00" opacity="0.6"/>
<rect x="36" y="258" width="1" height="1" fill="#f00" opacity="0.9"/>
<rect x="36" y="259" width="1" height="1" fill="#f00" opacity="0.6"/>
<rect x="36" y="260" width="1" height="1" fill="#f00" opacity="0.1"/>
<rect x="37" y="256" width="1" height="1" fill="#f00"/>
<rect x="37" y="257" width="1" height="1" fill="#f00" opacity="0.6"/>
<rect x="37" y="258" width="1" height="1" fill="#f00" opacity="0.1"/>
<rect x="38" y="256" width="1" height="1" fill="#f00"/>
<rect x="38" y="257" width="1" height="1" fill="#f00" opacity="0.2"/>
<rect x="39" y="256" width="1" height="1" fill="#f00" opacity="0.2"/>
<rect x="39" y="257" width="1" height="1" fill="#f00" opacity="0.9"/>
<rect x="39" y="258" width="1" height="1" fill="#f00" opacity="0.2"/>
<rect x="40" y="257" width="1" height="1" fill="#f00" opacity="0.2"/>
<rect x="40" y="258" width="1" height="1" fill="#f00" opacity="0.9"/>
<rect x="40" y="259" width="1" height="1" fill="#f00" opacity="0.7"/>
<rect x="40" y="260" width="1" height="1" fill="#f00" opacity="0.3"/>
<rect x="41" y="259" width="1" height="1" fill="#f00" opacity="0.3"/>
<rect x="41" y="260" width="1" height="1" fill="#f00" opacity="0.7"/>
<rect x="41" y="261" width="1" height="1" fill="#f00"/>
<rect x="41" y="262" width="1" height="1" fill="#f00" opacity="0.8"/>
<rect x="41" y="263" width="1" height="1" fill="#f00" opacity="0.5"/>
<rect x="41" y="264" width="1" height="1" fill="#f00" opacity="0.3"/>
<rect x="42" y="262" width="1" height="1" fill="#f00" opacity="0.3"/>
<rect x="42" y="263" width="1" height="1" fill="#f00" opacity="0.5"/>
<rect x="42" y="264" width="1" height="1" fill="#f00" opacity="0.8"/>
<rect x="42" y="265" width="1" height="1" fill="#f00"/>
<rect x="42" y="266" width="1" height="1" fill="#f00" opacity="0.8"/>
<rect x="42" y="267" width="1" height="1" fill="#f00" opacity="0.7"/>
<rect x="42" y="268" width="1" height="1" fill="#f00" opacity="0.5"/>
<rect x="42" y="269" width="1" height="1" fill="#f00" opacity="0.4"/>
<rect x="42" y="270" width="1" height="1" fill="#f00" opacity="0.2"/>
<rect x="43" y="266" width="1" height="1" fill="#f00" opacity="0.2"/>
<rect x="43" y="267" width="1" height="1" fill="#f00" opacity="0.4"/>
<rect x="43" y="268" width="1" height="1" fill="#f00" opacity="0.5"/>
<rect x="43" y="269" width="1" height="1" fill="#f00" opacity="0.7"/>
<rect x="43" y="270" width="1" height="1" fill="#f00" opacity="0.8"/>
<rect x="43" y="271" width="1" height="1" fill="#f00"/>
<rect x="44" y="272" width="1" height="1" fill="#f00" opacity="0.3"/>
<rect x="44" y="273" width="1" height="1" fill="#f00" opacity="0.7"/>
<rect x="45" y="281" width="1" height="1" fill="#f00" opacity="0.2"/>
<rect x="46" y="281" width="1" height="1" fill="#f00" opacity="0.8"/>
<rect x="46" y="282" width="1" height="1" fill="#f00"/>
<rect x="46" y="283" width="1" height="1" fill="#f00" opacity="0.8"/>
<rect x="46" y="284" width="1" height="1" fill="#f00" opacity="0.6"/>
<rect x="46" y="285" width="1" height="1" fill="#f00" opacity="0.4"/>
<rect x="46" y="286" width="1" height="1" fill="#f00" opacity="0.2"/>
<rect x="47" y="283" width="1" height="1" fill="#f00" opacity="0.2"/>
<rect x="47" y="284" width="1" height="1" fill="#f00" opacity="0.4"/>
<rect x="47" y="285" width="1" height="1" fill="#f00" opacity="0.6"/>
<rect x="47" y="286" width="1" height="1" fill="#f00" opacity="0.8"/>
<rect x="47" y="287" width="1" height="1" fill="#f00"/>
<rect x="47" y="288" width="1" height="1" fill="#f00" opacity="0.7"/>
<rect x="47" y="289" width="1" height="1" fill="#f00" opacity="0.3"/>
<rect x="48" y="288" width="1" height="1" fill="#f00" opacity="0.3"/>
<rect x="48" y="289" width="1" height="1" fill="#f00" opacity="0.7"/>
<rect x="48" y="290" width="1" height="1" fill="#f00" opacity="0.9"/>
<rect x="48" y="291" width="1" height="1" fill="#f00" opacity="0.5"/>
<rect x="49" y="290" width="1" height="1" fill="#f00" opacity="0.2"/>
<rect x="49" y="291" width="1" height="2" fill="#f00" opacity="0.8"/>
<rect x="49" y="293" width="1" height="1" fill="#f00" opacity="0.2"/>
<rect x="50" y="292" width="1" height="1" fill="#f00" opacity="0.5"/>
<rect x="50" y="293" width="1" height="1" fill="#f00" opacity="0.9"/>
<rect x="50" y="294" width="1" height="1" fill="#f00" opacity="0.2"/>
<rect x="51" y="293" width="1" height="1" fill="#f00" opacity="0.2"/>
<rect x="51" y="294" width="1" height="1" fill="#f00" opacity="0.9"/>
<rect x="51" y="295" width="1" height="1" fill="#f00" opacity="0.2"/>
<rect x="52" y="294" width="1" height="1" fill="#f00" opacity="0.2"/>
<rect x="52" y="295" width="1" height="1" fill="#f00"/>
<rect x="53" y="295" width="1" height="1" fill="#f00"/>
<rect x="54" y="295" width="1" height="1" fill="#f00"/>
<rect x="55" y="295" width="1" height="1" fill="#f00"/>
<rect x="56" y="294" width="1" height="1" fill="#f00" opacity="0.2"/>
<rect x="56" y="295" width="1" height="1" fill="#f00"/>
<rect x="57" y="292" width="1" height="1" fill="#f00" opacity="0.1"/>
<rect x="57" y="293" width="1" height="1" fill="#f00" opacity="0.6"/>
<rect x="57" y="294" width="1" height="1" fill="#f00" opacity="0.9"/>
<rect x="57" y="295" width="1" height="1" fill="#f00" opacity="0.2"/>
<rect x="58" y="291" width="1" height="1" fill="#f00" opacity="0.2"/>
<rect x="58" y="292" width="1" height="1" fill="#f00" opacity="0.9"/>
<rect x="58" y="293" width="1" height="1" fill="#f00" opacity="0.6"/>
<rect x="58" y="294" width="1" height="1" fill="#f00" opacity="0.1"/>
<rect x="59" y="290" width="1" height="1" fill="#f00" opacity="0.2"/>
<rect x="59" y="291" width="1" height="1" fill="#f00" opacity="0.9"/>
<rect x="59" y="292" width="1" height="1" fill="#f00" opacity="0.2"/>
<rect x="60" y="288" width="1" height="1" fill="#f00" opacity="0.1"/>
<rect x="60" y="289" width="1" height="1" fill="#f00" opacity="0.6"/>
<rect x="60" y="290" width="1" height="1" fill="#f00" opacity="0.9"/>
<rect x="60" y="291" width="1" height="1" fill="#f00" opacity="0.2"/>
<rect x="61" y="286" width="1" height="1" fill="#f00" opacity="0.3"/>
<rect x="61" y="287" width="1" height="1" fill="#f00" opacity="0.7"/>
<rect x="61" y="288" width="1" height="1" fill="#f00" opacity="0.9"/>
<rect x="61" y="289" width="1" height="1" fill="#f00" opacity="0.6"/>
<rect x="61" y="290" width="1" height="1" fill="#f00" opacity="0.1"/>
<rect x="62" y="283" width="1" height="1" fill="#f00" opacity="0.3"/>
<rect x="62" y="284" width="1" height="1" fill="#f00" opacity="0.7"/>
<rect x="62" y="285" width="1" height="1" fill="#f00" opacity="0.9"/>
<rect x="62" y="286" width="1" height="1" fill="#f00" opacity="0.7"/>
<rect x="62" y="287" width="1" height="1" fill="#f00" opacity="0.3"/>
<rect x="63" y="282" width="1" height="1" fill="#f00" opacity="0.9"/>
<rect x="63" y="283" width="1" height="1" fill="#f00" opacity="0.7"/>
<rect x="63" y="284" width="1" height="1" fill="#f00" opacity="0.3"/>
<rect x="64" y="280" width="1" height="1" fill="#f00" opacity="0.2"/>
<rect x="64" y="281" width="1" height="1" fill="#f00" opacity="0.9"/>
<rect x="64" y="282" width="1" height="1" fill="#f00" opacity="0.2"/>
<rect x="74" y="275" width="1" height="1" fill="#f00"/>
<rect x="99" y="274" width="1" height="2" fill="#f00" opacity="0.6"/>
<rect x="100" y="273" width="1" height="1" fill="#f00" opacity="0.2"/>
<rect x="101" y="272" width="1" height="1" fill="#f00" opacity="0.2"/>
<rect x="101" y="273" width="1" height="1" fill="#f00" opacity="0.9"/>
<rect x="102" y="272" width="1" height="1" fill="#f00"/>
<rect x="102" y="273" width="1" height="1" fill="#f00" opacity="0.2"/>
<rect x="103" y="272" width="1" height="1" fill="#f00"/>
<rect x="104" y="272" width="1" height="1" fill="#f00"/>
<rect x="105" y="272" width="1" height="1" fill="#f00"/>
<rect x="106" y="272" width="1" height="1" fill="#f00"/>
<rect x="107" y="272" width="1" height="1" fill="#f00" opacity="0.2"/>
<rect x="109" y="274" width="1" height="1" fill="#f00" opacity="0.6"/>
<rect x="119" y="274" width="1" height="1" fill="#f00" opacity="0.6"/>
<rect x="134" y="278" width="1" height="1" fill="#f00" opacity="0.6"/>
<rect x="139" y="280" width="1" height="1" fill="#f00" opacity="0.6"/>
<rect x="144" y="280" width="1" height="1" fill="#f00"/>
<rect x="149" y="278" width="1" height="1" fill="#f00" opacity="0.6"/>
<rect x="158" y="272" width="1" height="1" fill="#f00" opacity="0.1"/>
<rect x="159" y="272" width="1" height="2" fill="#f00" opacity="0.6"/>
<rect x="160" y="270" width="1" height="1" fill="#f00" opacity="0.1"/>
<rect x="160" y="271" width="1" height="1" fill="#f00" opacity="0.6"/>
<rect x="160" y="272" width="1" height="1" fill="#f00" opacity="0.9"/>
<rect x="161" y="270" width="1" height="1" fill="#f00"/>
<rect x="161" y="271" width="1" height="1" fill="#f00" opacity="0.6"/>
<rect x="161" y="272" width="1" height="1" fill="#f00" opacity="0.1"/>
<rect x="162" y="270" width="1" height="1" fill="#f00"/>
<rect x="162" y="271" width="1" height="1" fill="#f00" opacity="0.2"/>
<rect x="163" y="270" width="1" height="1" fill="#f00" opacity="0.2"/>
<rect x="163" y="271" width="1" height="1" fill="#f00" opacity="0.9"/>
<rect x="163" y="272" width="1" height="1" fill="#f00" opacity="0.1"/>
<rect x="164" y="271" width="1" height="2" fill="#f00" opacity="0.6"/>
<rect x="165" y="271" width="1" height="1" fill="#f00" opacity="0.1"/>
<rect x="165" y="272" width="1" height="1" fill="#f00" opacity="0.9"/>
<rect x="174" y="281" width="1" height="1" fill="#f00"/>
<rect x="179" y="281" width="1" height="1" fill="#f00"/>
<rect x="184" y="279" width="1" height="1" fill="#f00" opacity="0.6"/>
<rect x="194" y="274" width="1" height="1" fill="#f00"/>
<rect x="199" y="274" width="1" height="1" fill="#f00"/>
<rect x="224" y="274" width="1" height="1" fill="#f00" opacity="0.6"/>
<rect x="226" y="272" width="1" height="1" fill="#f00" opacity="0.2"/>
<rect x="227" y="272" width="1" height="1" fill="#f00" opacity="0.9"/>
<rect x="228" y="272" width="1" height="1" fill="#f00" opacity="0.2"/>
<rect x="229" y="273" width="1" height="1" fill="#f00" opacity="0.2"/>
<rect x="229" y="274" width="1" height="1" fill="#f00" opacity="0.9"/>
<rect x="234" y="280" width="1" height="1" fill="#f00" opacity="0.6"/>
<rect x="239" y="278" width="1" height="1" fill="#f00"/>
<rect x="259" y="279" width="1" height="1" fill="#f00" opacity="0.6"/>
<rect x="264" y="280" width="1" height="1" fill="#f00"/>
<rect x="267" y="281" width="1" height="1" fill="#f00" opacity="0.2"/>
<rect x="268" y="281" width="1" height="1" fill="#f00"/>
<rect x="269" y="281" width="1" height="1" fill="#f00"/>
<rect x="270" y="281" width="1" height="1" fill="#f00"/>
<rect x="271" y="281" width="1" height="1" fill="#f00"/>
<rect x="272" y="281" width="1" height="1" fill="#f00"/>
<rect x="273" y="281" width="1" height="1" fill="#f00"/>
<rect x="274" y="281" width="1" height="1" fill="#f00"/>
<rect x="275" y="281" width="1" height="1" fill="#f00"/>
<rect x="276" y="281" width="1" height="1" fill="#f00" opacity="0.2"/>
<rect x="289" y="273" width="1" height="1" fill="#f00"/>
<rect x="294" y="273" width="1" height="1" fill="#f00" opacity="0.2"/>
<rect x="294" y="274" width="1" height="1" fill="#f00" opacity="0.9"/>
<rect x="299" y="280" width="1" height="1" fill="#f00"/>
<rect x="304" y="280" width="1" height="1" fill="#f00"/>
<rect x="309" y="278" width="1" height="1" fill="#f00"/>
<rect x="324" y="274" width="1" height="1" fill="#f00" opacity="0.6"/>
<rect x="329" y="273" width="1" height="1" fill="#f00"/>
<rect x="339" y="280" width="1" height="1" fill="#f00"/>
<rect x="344" y="278" width="1" height="1" fill="#f00"/>
<rect x="374" y="278" width="1" height="1" fill="#f00"/>
<rect x="399" y="278" width="1" height="1" fill="#f00"/>
<rect x="404" y="278" width="1" height="1" fill="#f00"/>
<rect x="409" y="278" width="1" height="1" fill="#f00" opacity="0.6"/>
<use href="#mx" x="0" y="0"/>
<use href="#mx" x="1" y="19"/>
<use href="#mx" x="2" y="68"/>
<use href="#mx" x="3" y="132"/>
<use href="#mx" x="5" y="192"/>
<use href="#mx" x="6" y="239"/>
<use href="#mx" x="7" y="269"/>
<use href="#mx" x="8" y="284"/>
<use href="#mx" x="10" y="288"/>
<use href="#mx" x="11" y="288"/>
<use href="#mx" x="12" y="289"/>
<use href="#mx" x="13" y="294"/>
<use href="#mx" x="15" y="303"/>
<use href="#mx" x="16" y="315"/>
<use href="#mx" x="17" y="326"/>
<use href="#mx" x="18" y="336"/>
<use href="#mx" x="20" y="342"/>
<use href="#mx" x="21" y="343"/>
<use href="#mx" x="22" y="339"/>
<use href="#mx" x="23" y="332"/>
<use href="#mx" x="25" y="322"/>
<use href="#mx" x="26" y="311"/>
<use href="#mx" x="27" y="301"/>
<use href="#mx" x="28" y="291"/>
<use href="#mx" x="30" y="282"/>
<use href="#mx" x="31" y="275"/>
<use href="#mx" x="32" y="269"/>
<use href="#mx" x="33" y="264"/>
<use href="#mx" x="35" y="260"/>
<use href="#mx" x="36" y="258"/>
<use href="#mx" x="37" y="256"/>
<use href="#mx" x="38" y="256"/>
<use href="#mx" x="40" y="258"/>
<use href="#mx" x="41" y="261"/>
<use href="#mx" x="42" y="265"/>
<use href="#mx" x="43" y="271"/>
<use href="#mx" x="45" y="277"/>
<use href="#mx" x="46" y="282"/>
<use href="#mx" x="47" y="287"/>
<use href="#mx" x="48" y="290"/>
<use href="#mx" x="50" y="293"/>
<use href="#mx" x="51" y="294"/>
<use href="#mx" x="52" y="295"/>
<use href="#mx" x="53" y="295"/>
<use href="#mx" x="55" y="295"/>
<use href="#mx" x="56" y="295"/>
<use href="#mx" x="57" y="294"/>
<use href="#mx" x="58" y="292"/>
<use href="#mx" x="60" y="290"/>
<use href="#mx" x="61" y="288"/>
<use href="#mx" x="62" y="285"/>
<use href="#mx" x="63" y="282"/>
<use href="#mx" x="65" y="280"/>
<use href="#mx" x="66" y="279"/>
<use href="#mx" x="67" y="278"/>
<use href="#mx" x="68" y="277"/>
<use href="#mx" x="70" y="276"/>
<use href="#mx" x="71" y="276"/>
<use href="#mx" x="72" y="275"/>
<use href="#mx" x="73" y="275"/>
<use href="#mx" x="75" y="275"/>
<use href="#mx" x="76" y="275"/>
<use href="#mx" x="77" y="276"/>
<use href="#mx" x="78" y="277"/>
<use href="#mx" x="80" y="278"/>
<use href="#mx" x="81" y="279"/>
<use href="#mx" x="82" y="280"/>
<use href="#mx" x="83" y="280"/>
<use href="#mx" x="85" y="280"/>
<use href="#mx" x="86" y="279"/>
<use href="#mx" x="87" y="278"/>
<use href="#mx" x="88" y="278"/>
<use href="#mx" x="90" y="278"/>
<use href="#mx" x="91" y="278"/>
<use href="#mx" x="92" y="278"/>
<use href="#mx" x="93" y="278"/>
<use href="#mx" x="95" y="278"/>
<use href="#mx" x="96" y="278"/>
<use href="#mx" x="97" y="278"/>
<use href="#mx" x="98" y="275"/>
<use href="#mx" x="100" y="274"/>
<use href="#mx" x="101" y="273"/>
<use href="#mx" x="102" y="272"/>
<use href="#mx" x="103" y="272"/>
<use href="#mx" x="105" y="272"/>
<use href="#mx" x="106" y="272"/>
<use href="#mx" x="107" y="273"/>
<use href="#mx" x="108" y="274"/>
<use href="#mx" x="110" y="275"/>
<use href="#mx" x="111" y="275"/>
<use href="#mx" x="112" y="275"/>
<use href="#mx" x="113" y="275"/>
<use href="#mx" x="115" y="275"/>
<use href="#mx" x="116" y="275"/>
<use href="#mx" x="117" y="274"/>
<use href="#mx" x="118" y="274"/>
<use href="#mx" x="120" y="275"/>
<use href="#mx" x="121" y="275"/>
<use href="#mx" x="122" y="276"/>
<use href="#mx" x="123" y="276"/>
<use href="#mx" x="125" y="276"/>
<use href="#mx" x="126" y="276"/>
<use href="#mx" x="127" y="276"/>
<use href="#mx" x="128" y="276"/>
<use href="#mx" x="130" y="276"/>
<use href="#mx" x="131" y="276"/>
<use href="#mx" x="132" y="277"/>
<use href="#mx" x="133" y="277"/>
<use href="#mx" x="135" y="278"/>
<use href="#mx" x="136" y="278"/>
<use href="#mx" x="137" y="279"/>
<use href="#mx" x="138" y="279"/>
<use href="#mx" x="140" y="280"/>
<use href="#mx" x="141" y="280"/>
<use href="#mx" x="142" y="280"/>
<use href="#mx" x="143" y="280"/>
<use href="#mx" x="145" y="280"/>
<use href="#mx" x="146" y="280"/>
<use href="#mx" x="147" y="280"/>
<use href="#mx" x="148" y="278"/>
<use href="#mx" x="150" y="277"/>
<use href="#mx" x="151" y="277"/>
<use href="#mx" x="152" y="277"/>
<use href="#mx" x="153" y="277"/>
<use href="#mx" x="155" y="277"/>
<use href="#mx" x="156" y="276"/>
<use href="#mx" x="157" y="275"/>
<use href="#mx" x="158" y="273"/>
<use href="#mx" x="160" y="272"/>
<use href="#mx" x="161" y="270"/>
<use href="#mx" x="162" y="270"/>
<use href="#mx" x="163" y="271"/>
<use href="#mx" x="165" y="272"/>
<use href="#mx" x="166" y="275"/>
<use href="#mx" x="167" y="277"/>
<use href="#mx" x="168" y="279"/>
<use href="#mx" x="170" y="280"/>
<use href="#mx" x="171" y="280"/>
<use href="#mx" x="172" y="282"/>
<use href="#mx" x="173" y="281"/>
<use href="#mx" x="175" y="281"/>
<use href="#mx" x="176" y="281"/>
<use href="#mx" x="177" y="281"/>
<use href="#mx" x="178" y="281"/>
<use href="#mx" x="180" y="281"/>
<use href="#mx" x="181" y="281"/>
<use href="#mx" x="182" y="280"/>
<use href="#mx" x="183" y="280"/>
<use href="#mx" x="185" y="279"/>
<use href="#mx" x="186" y="279"/>
<use href="#mx" x="187" y="279"/>
<use href="#mx" x="188" y="276"/>
<use href="#mx" x="190" y="276"/>
<use href="#mx" x="191" y="276"/>
<use href="#mx" x="192" y="274"/>
<use href="#mx" x="193" y="274"/>
<use href="#mx" x="195" y="274"/>
<use href="#mx" x="196" y="274"/>
<use href="#mx" x="197" y="274"/>
<use href="#mx" x="198" y="274"/>
<use href="#mx" x="200" y="274"/>
<use href="#mx" x="201" y="274"/>
<use href="#mx" x="202" y="274"/>
<use href="#mx" x="203" y="276"/>
<use href="#mx" x="205" y="276"/>
<use href="#mx" x="206" y="276"/>
<use href="#mx" x="207" y="277"/>
<use href="#mx" x="208" y="277"/>
<use href="#mx" x="210" y="277"/>
<use href="#mx" x="211" y="277"/>
<use href="#mx" x="212" y="277"/>
<use href="#mx" x="213" y="277"/>
<use href="#mx" x="215" y="276"/>
<use href="#mx" x="216" y="276"/>
<use href="#mx" x="217" y="274"/>
<use href="#mx" x="218" y="275"/>
<use href="#mx" x="220" y="275"/>
<use href="#mx" x="221" y="275"/>
<use href="#mx" x="222" y="275"/>
<use href="#mx" x="223" y="275"/>
<use href="#mx" x="225" y="274"/>
<use href="#mx" x="226" y="273"/>
<use href="#mx" x="227" y="272"/>
<use href="#mx" x="228" y="273"/>
<use href="#mx" x="230" y="275"/>
<use href="#mx" x="231" y="276"/>
<use href="#mx" x="232" y="278"/>
<use href="#mx" x="233" y="279"/>
<use href="#mx" x="235" y="280"/>
<use href="#mx" x="236" y="281"/>
<use href="#mx" x="237" y="280"/>
<use href="#mx" x="238" y="278"/>
<use href="#mx" x="240" y="278"/>
<use href="#mx" x="241" y="275"/>
<use href="#mx" x="242" y="275"/>
<use href="#mx" x="243" y="275"/>
<use href="#mx" x="245" y="275"/>
<use href="#mx" x="246" y="275"/>
<use href="#mx" x="247" y="275"/>
<use href="#mx" x="248" y="275"/>
<use href="#mx" x="250" y="275"/>
<use href="#mx" x="251" y="275"/>
<use href="#mx" x="252" y="276"/>
<use href="#mx" x="253" y="276"/>
<use href="#mx" x="255" y="276"/>
<use href="#mx" x="256" y="278"/>
<use href="#mx" x="257" y="278"/>
<use href="#mx" x="258" y="278"/>
<use href="#mx" x="260" y="279"/>
<use href="#mx" x="261" y="279"/>
<use href="#mx" x="262" y="280"/>
<use href="#mx" x="263" y="280"/>
<use href="#mx" x="265" y="280"/>
<use href="#mx" x="266" y="280"/>
<use href="#mx" x="267" y="280"/>
<use href="#mx" x="268" y="281"/>
<use href="#mx" x="270" y="281"/>
<use href="#mx" x="271" y="281"/>
<use href="#mx" x="272" y="281"/>
<use href="#mx" x="273" y="281"/>
<use href="#mx" x="275" y="281"/>
<use href="#mx" x="276" y="280"/>
<use href="#mx" x="277" y="279"/>
<use href="#mx" x="278" y="278"/>
<use href="#mx" x="280" y="278"/>
<use href="#mx" x="281" y="278"/>
<use href="#mx" x="282" y="277"/>
<use href="#mx" x="283" y="277"/>
<use href="#mx" x="285" y="277"/>
<use href="#mx" x="286" y="275"/>
<use href="#mx" x="287" y="275"/>
<use href="#mx" x="288" y="273"/>
<use href="#mx" x="290" y="273"/>
<use href="#mx" x="291" y="273"/>
<use href="#mx" x="292" y="273"/>
<use href="#mx" x="293" y="273"/>
<use href="#mx" x="295" y="275"/>
<use href="#mx" x="296" y="278"/>
<use href="#mx" x="297" y="280"/>
<use href="#mx" x="298" y="280"/>
<use href="#mx" x="300" y="280"/>
<use href="#mx" x="301" y="280"/>
<use href="#mx" x="302" y="280"/>
<use href="#mx" x="303" y="280"/>
<use href="#mx" x="305" y="280"/>
<use href="#mx" x="306" y="280"/>
<use href="#mx" x="307" y="280"/>
<use href="#mx" x="308" y="278"/>
<use href="#mx" x="310" y="278"/>
<use href="#mx" x="311" y="278"/>
<use href="#mx" x="312" y="276"/>
<use href="#mx" x="313" y="276"/>
<use href="#mx" x="315" y="276"/>
<use href="#mx" x="316" y="275"/>
<use href="#mx" x="317" y="275"/>
<use href="#mx" x="318" y="275"/>
<use href="#mx" x="320" y="275"/>
<use href="#mx" x="321" y="275"/>
<use href="#mx" x="322" y="275"/>
<use href="#mx" x="323" y="275"/>
<use href="#mx" x="325" y="274"/>
<use href="#mx" x="326" y="274"/>
<use href="#mx" x="327" y="273"/>
<use href="#mx" x="328" y="273"/>
<use href="#mx" x="330" y="273"/>
<use href="#mx" x="331" y="273"/>
<use href="#mx" x="332" y="273"/>
<use href="#mx" x="333" y="275"/>
<use href="#mx" x="335" y="275"/>
<use href="#mx" x="336" y="277"/>
<use href="#mx" x="337" y="277"/>
<use href="#mx" x="338" y="280"/>
<use href="#mx" x="340" y="280"/>
<use href="#mx" x="341" y="280"/>
<use href="#mx" x="342" y="280"/>
<use href="#mx" x="343" y="278"/>
<use href="#mx" x="345" y="278"/>
<use href="#mx" x="346" y="277"/>
<use href="#mx" x="347" y="277"/>
<use href="#mx" x="348" y="276"/>
<use href="#mx" x="350" y="276"/>
<use href="#mx" x="351" y="276"/>
<use href="#mx" x="352" y="276"/>
<use href="#mx" x="353" y="276"/>
<use href="#mx" x="355" y="276"/>
<use href="#mx" x="356" y="276"/>
<use href="#mx" x="357" y="276"/>
<use href="#mx" x="358" y="276"/>
<use href="#mx" x="360" y="276"/>
<use href="#mx" x="361" y="276"/>
<use href="#mx" x="362" y="277"/>
<use href="#mx" x="363" y="277"/>
<use href="#mx" x="365" y="277"/>
<use href="#mx" x="366" y="278"/>
<use href="#mx" x="367" y="279"/>
<use href="#mx" x="368" y="279"/>
<use href="#mx" x="370" y="279"/>
<use href="#mx" x="371" y="279"/>
<use href="#mx" x="372" y="279"/>
<use href="#mx" x="373" y="278"/>
<use href="#mx" x="375" y="278"/>
<use href="#mx" x="376" y="278"/>
<use href="#mx" x="377" y="277"/>
<use href="#mx" x="378" y="277"/>
<use href="#mx" x="380" y="277"/>
<use href="#mx" x="381" y="277"/>
<use href="#mx" x="382" y="277"/>
<use href="#mx" x="383" y="277"/>
<use href="#mx" x="385" y="277"/>
<use href="#mx" x="386" y="277"/>
<use href="#mx" x="387" y="277"/>
<use href="#mx" x="388" y="277"/>
<use href="#mx" x="390" y="277"/>
<use href="#mx" x="391" y="277"/>
<use href="#mx" x="392" y="277"/>
<use href="#mx" x="393" y="277"/>
<use href="#mx" x="395" y="277"/>
<use href="#mx" x="396" y="277"/>
<use href="#mx" x="397" y="278"/>
<use href="#mx" x="398" y="278"/>
<use href="#mx" x="400" y="278"/>
<use href="#mx" x="401" y="278"/>
<use href="#mx" x="402" y="278"/>
<use href="#mx" x="403" y="278"/>
<use href="#mx" x="405" y="278"/>
<use href="#mx" x="406" y="278"/>
<use href="#mx" x="407" y="278"/>
<use href="#mx" x="408" y="278"/>
<use href="#mx" x="410" y="277"/>
<use href="#mx" x="411" y="277"/>
<use href="#mx" x="412" y="277"/>
<use href="#mx" x="413" y="277"/>
<use href="#mx" x="415" y="277"/>
<use href="#mx" x="416" y="277"/>
<use href="#mx" x="417" y="277"/>
<use href="#mx" x="418" y="277"/>
<use href="#mx" x="420" y="277"/>
<use href="#mx" x="421" y="277"/>
<use href="#mx" x="422" y="277"/>
<use href="#mx" x="423" y="277"/>
<use href="#mx" x="425" y="277"/>
<use href="#mx" x="426" y="277"/>
<use href="#mx" x="427" y="277"/>
<use href="#mx" x="428" y="277"/>
<use href="#mx" x="430" y="277"/>
<use href="#ms" x="0" y="258"/>
<use href="#ms" x="1" y="259"/>
<use href="#ms" x="2" y="260"/>
<use href="#ms" x="3" y="261"/>
<use href="#ms" x="5" y="262"/>
<use href="#ms" x="6" y="263"/>
<use href="#ms" x="7" y="264"/>
<use href="#ms" x="8" y="265"/>
<use href="#ms" x="10" y="266"/>
<use href="#ms" x="11" y="267"/>
<use href="#ms" x="12" y="268"/>
<use href="#ms" x="13" y="269"/>
<use href="#ms" x="15" y="269"/>
<use href="#ms" x="16" y="270"/>
<use href="#ms" x="17" y="270"/>
<use href="#ms" x="18" y="271"/>
<use href="#ms" x="20" y="271"/>
<use href="#ms" x="21" y="272"/>
<use href="#ms" x="22" y="272"/>
<use href="#ms" x="23" y="272"/>
<use href="#ms" x="25" y="273"/>
<use href="#ms" x="26" y="273"/>
<use href="#ms" x="27" y="273"/>
<use href="#ms" x="28" y="273"/>
<use href="#ms" x="30" y="274"/>
<use href="#ms" x="31" y="274"/>
<use href="#ms" x="32" y="274"/>
<use href="#ms" x="33" y="274"/>
<use href="#ms" x="35" y="275"/>
<use href="#ms" x="36" y="275"/>
<use href="#ms" x="37" y="275"/>
<use href="#ms" x="38" y="275"/>
<use href="#ms" x="40" y="276"/>
<use href="#ms" x="41" y="276"/>
<use href="#ms" x="42" y="276"/>
<use href="#ms" x="43" y="276"/>
<use href="#ms" x="45" y="276"/>
<use href="#ms" x="46" y="276"/>
<use href="#ms" x="47" y="276"/>
<use href="#ms" x="48" y="276"/>
<use href="#ms" x="50" y="276"/>
<use href="#ms" x="51" y="277"/>
<use href="#ms" x="52" y="277"/>
<use href="#ms" x="53" y="277"/>
<use href="#ms" x="55" y="277"/>
<use href="#ms" x="56" y="277"/>
<use href="#ms" x="57" y="277"/>
<use href="#ms" x="58" y="277"/>
<use href="#ms" x="60" y="277"/>
<use href="#ms" x="61" y="277"/>
<use href="#ms" x="62" y="277"/>
<use href="#ms" x="63" y="277"/>
<use href="#ms" x="65" y="278"/>
<use href="#ms" x="66" y="278"/>
<use href="#ms" x="67" y="278"/>
<use href="#ms" x="68" y="278"/>
<use href="#ms" x="70" y="278"/>
<use href="#ms" x="71" y="278"/>
<use href="#ms" x="72" y="278"/>
<use href="#ms" x="73" y="278"/>
<use href="#ms" x="75" y="278"/>
<use href="#ms" x="76" y="278"/>
<use href="#ms" x="77" y="278"/>
<use href="#ms" x="78" y="278"/>
<use href="#ms" x="80" y="278"/>
<use href="#ms" x="81" y="278"/>
<use href="#ms" x="82" y="278"/>
<use href="#ms" x="83" y="278"/>
<use href="#ms" x="85" y="278"/>
<use href="#ms" x="86" y="278"/>
<use href="#ms" x="87" y="278"/>
<use href="#ms" x="88" y="278"/>
<use href="#ms" x="90" y="278"/>
<use href="#ms" x="91" y="278"/>
<use href="#ms" x="92" y="278"/>
<use href="#ms" x="93" y="278"/>
<use href="#ms" x="95" y="278"/>
<use href="#ms" x="96" y="278"/>
<use href="#ms" x="97" y="278"/>
<use href="#ms" x="98" y="278"/>
<use href="#ms" x="100" y="278"/>
<use href="#ms" x="101" y="278"/>
<use href="#ms" x="102" y="278"/>
<use href="#ms" x="103" y="277"/>
<use href="#ms" x="105" y="277"/>
<use href="#ms" x="106" y="277"/>
<use href="#ms" x="107" y="277"/>
<use href="#ms" x="108" y="277"/>
<use href="#ms" x="110" y="277"/>
<use href="#ms" x="111" y="277"/>
<use href="#ms" x="112" y="277"/>
<use href="#ms" x="113" y="277"/>
<use href="#ms" x="115" y="277"/>
<use href="#ms" x="116" y="277"/>
<use href="#ms" x="117" y="277"/>
<use href="#ms" x="118" y="277"/>
<use href="#ms" x="120" y="277"/>
<use href="#ms" x="121" y="277"/>
<use href="#ms" x="122" y="277"/>
<use href="#ms" x="123" y="277"/>
<use href="#ms" x="125" y="277"/>
<use href="#ms" x="126" y="277"/>
<use href="#ms" x="127" y="277"/>
<use href="#ms" x="128" y="277"/>
<use href="#ms" x="130" y="277"/>
<use href="#ms" x="131" y="277"/>
<use href="#ms" x="132" y="277"/>
<use href="#ms" x="133" y="277"/>
<use href="#ms" x="135" y="277"/>
<use href="#ms" x="136" y="277"/>
<use href="#ms" x="137" y="277"/>
<use href="#ms" x="138" y="277"/>
<use href="#ms" x="140" y="277"/>
<use href="#ms" x="141" y="277"/>
<use href="#ms" x="142" y="277"/>
<use href="#ms" x="143" y="277"/>
<use href="#ms" x="145" y="277"/>
<use href="#ms" x="146" y="277"/>
<use href="#ms" x="147" y="277"/>
<use href="#ms" x="148" y="277"/>
<use href="#ms" x="150" y="277"/>
<use href="#ms" x="151" y="277"/>
<use href="#ms" x="152" y="277"/>
<use href="#ms" x="153" y="277"/>
<use href="#ms" x="155" y="277"/>
<use href="#ms" x="156" y="277"/>
<use href="#ms" x="157" y="277"/>
<use href="#ms" x="158" y="277"/>
<use href="#ms" x="160" y="277"/>
<use href="#ms" x="161" y="277"/>
<use href="#ms" x="162" y="277"/>
<use href="#ms" x="163" y="277"/>
<use href="#ms" x="165" y="277"/>
<use href="#ms" x="166" y="277"/>
<use href="#ms" x="167" y="278"/>
<use href="#ms" x="168" y="278"/>
<use href="#ms" x="170" y="278"/>
<use href="#ms" x="171" y="278"/>
<use href="#ms" x="172" y="278"/>
<use href="#ms" x="173" y="278"/>
<use href="#ms" x="175" y="278"/>
<use href="#ms" x="176" y="278"/>
<use href="#ms" x="177" y="278"/>
<use href="#ms" x="178" y="278"/>
<use href="#ms" x="180" y="278"/>
<use href="#ms" x="181" y="278"/>
<use href="#ms" x="182" y="278"/>
<use href="#ms" x="183" y="278"/>
<use href="#ms" x="185" y="278"/>
<use href="#ms" x="186" y="278"/>
<use href="#ms" x="187" y="278"/>
<use href="#ms" x="188" y="278"/>
<use href="#ms" x="190" y="278"/>
<use href="#ms" x="191" y="278"/>
<use href="#ms" x="192" y="278"/>
<use href="#ms" x="193" y="278"/>
<use href="#ms" x="195" y="278"/>
<use href="#ms" x="196" y="278"/>
<use href="#ms" x="197" y="278"/>
<use href="#ms" x="198" y="278"/>
<use href="#ms" x="200" y="278"/>
<use href="#ms" x="201" y="278"/>
<use href="#ms" x="202" y="278"/>
<use href="#ms" x="203" y="277"/>
<use href="#ms" x="205" y="277"/>
<use href="#ms" x="206" y="277"/>
<use href="#ms" x="207" y="277"/>
<use href="#ms" x="208" y="277"/>
<use href="#ms" x="210" y="277"/>
<use href="#ms" x="211" y="277"/>
<use href="#ms" x="212" y="277"/>
<use href="#ms" x="213" y="277"/>
<use href="#ms" x="215" y="277"/>
<use href="#ms" x="216" y="277"/>
<use href="#ms" x="217" y="277"/>
<use href="#ms" x="218" y="277"/>
<use href="#ms" x="220" y="277"/>
<use href="#ms" x="221" y="277"/>
<use href="#ms" x="222" y="277"/>
<use href="#ms" x="223" y="277"/>
<use href="#ms" x="225" y="277"/>
<use href="#ms" x="226" y="277"/>
<use href="#ms" x="227" y="277"/>
<use href="#ms" x="228" y="277"/>
<use href="#ms" x="230" y="277"/>
<use href="#ms" x="231" y="277"/>
<use href="#ms" x="232" y="277"/>
<use href="#ms" x="233" y="277"/>
<use href="#ms" x="235" y="277"/>
<use href="#ms" x="236" y="277"/>
<use href="#ms" x="237" y="277"/>
<use href="#ms" x="238" y="277"/>
<use href="#ms" x="240" y="277"/>
<use href="#ms" x="241" y="277"/>
<use href="#ms" x="242" y="277"/>
<use href="#ms" x="243" y="277"/>
<use href="#ms" x="245" y="277"/>
<use href="#ms" x="246" y="277"/>
<use href="#ms" x="247" y="277"/>
<use href="#ms" x="248" y="277"/>
<use href="#ms" x="250" y="277"/>
<use href="#ms" x="251" y="277"/>
<use href="#ms" x="252" y="277"/>
<use href="#ms" x="253" y="277"/>
<use href="#ms" x="255" y="276"/>
<use href="#ms" x="256" y="276"/>
<use href="#ms" x="257" y="276"/>
<use href="#ms" x="258" y="276"/>
<use href="#ms" x="260" y="276"/>
<use href="#ms" x="261" y="276"/>
<use href="#ms" x="262" y="276"/>
<use href="#ms" x="263" y="276"/>
<use href="#ms" x="265" y="276"/>
<use href="#ms" x="266" y="276"/>
<use href="#ms" x="267" y="276"/>
<use href="#ms" x="268" y="276"/>
<use href="#ms" x="270" y="276"/>
<use href="#ms" x="271" y="276"/>
<use href="#ms" x="272" y="276"/>
<use href="#ms" x="273" y="276"/>
<use href="#ms" x="275" y="276"/>
<use href="#ms" x="276" y="276"/>
<use href="#ms" x="277" y="276"/>
<use href="#ms" x="278" y="276"/>
<use href="#ms" x="280" y="277"/>
<use href="#ms" x="281" y="277"/>
<use href="#ms" x="282" y="277"/>
<use href="#ms" x="283" y="277"/>
<use href="#ms" x="285" y="277"/>
<use href="#ms" x="286" y="277"/>
<use href="#ms" x="287" y="277"/>
<use href="#ms" x="288" y="277"/>
<use href="#ms" x="290" y="277"/>
<use href="#ms" x="291" y="277"/>
<use href="#ms" x="292" y="277"/>
<use href="#ms" x="293" y="277"/>
<use href="#ms" x="295" y="277"/>
<use href="#ms" x="296" y="277"/>
<use href="#ms" x="297" y="277"/>
<use href="#ms" x="298" y="277"/>
<use href="#ms" x="300" y="277"/>
<use href="#ms" x="301" y="277"/>
<use href="#ms" x="302" y="277"/>
<use href="#ms" x="303" y="277"/>
<use href="#ms" x="305" y="277"/>
<use href="#ms" x="306" y="277"/>
<use href="#ms" x="307" y="277"/>
<use href="#ms" x="308" y="277"/>
<use href="#ms" x="310" y="277"/>
<use href="#ms" x="311" y="277"/>
<use href="#ms" x="312" y="277"/>
<use href="#ms" x="313" y="277"/>
<use href="#ms" x="315" y="277"/>
<use href="#ms" x="316" y="277"/>
<use href="#ms" x="317" y="277"/>
<use href="#ms" x="318" y="277"/>
<use href="#ms" x="320" y="277"/>
<use href="#ms" x="321" y="277"/>
<use href="#ms" x="322" y="277"/>
<use href="#ms" x="323" y="277"/>
<use href="#ms" x="325" y="277"/>
<use href="#ms" x="326" y="277"/>
<use href="#ms" x="327" y="277"/>
<use href="#ms" x="328" y="277"/>
<use href="#ms" x="330" y="277"/>
<use href="#ms" x="331" y="277"/>
<use href="#ms" x="332" y="277"/>
<use href="#ms" x="333" y="277"/>
<use href="#ms" x="335" y="277"/>
<use href="#ms" x="336" y="277"/>
<use href="#ms" x="337" y="277"/>
<use href="#ms" x="338" y="277"/>
<use href="#ms" x="340" y="277"/>
<use href="#ms" x="341" y="277"/>
<use href="#ms" x="342" y="277"/>
<use href="#ms" x="343" y="277"/>
<use href="#ms" x="345" y="277"/>
<use href="#ms" x="346" y="277"/>
<use href="#ms" x="347" y="277"/>
<use href="#ms" x="348" y="277"/>
<use href="#ms" x="350" y="277"/>
<use href="#ms" x="351" y="277"/>
<use href="#ms" x="352" y="277"/>
<use href="#ms" x="353" y="277"/>
<use href="#ms" x="355" y="277"/>
<use href="#ms" x="356" y="277"/>
<use href="#ms" x="357" y="277"/>
<use href="#ms" x="358" y="277"/>
<use href="#ms" x="360" y="277"/>
<use href="#ms" x="361" y="277"/>
<use href="#ms" x="362" y="277"/>
<use href="#ms" x="363" y="277"/>
<use href="#ms" x="365" y="277"/>
<use href="#ms" x="366" y="277"/>
<use href="#ms" x="367" y="277"/>
<use href="#ms" x="368" y="277"/>
<use href="#ms" x="370" y="277"/>
<use href="#ms" x="371" y="277"/>
<use href="#ms" x="372" y="277"/>
<use href="#ms" x="373" y="277"/>
<use href="#ms" x="375" y="277"/>
<use href="#ms" x="376" y="277"/>
<use href="#ms" x="377" y="277"/>
<use href="#ms" x="378" y="277"/>
<use href="#ms" x="380" y="277"/>
<use href="#ms" x="381" y="277"/>
<use href="#ms" x="382" y="277"/>
<use href="#ms" x="383" y="277"/>
<use href="#ms" x="385" y="277"/>
<use href="#ms" x="386" y="277"/>
<use href="#ms" x="387" y="277"/>
<use href="#ms" x="388" y="277"/>
<use href="#ms" x="390" y="277"/>
<use href="#ms" x="391" y="277"/>
<use href="#ms" x="392" y="277"/>
<use href="#ms" x="393" y="277"/>
<use href="#ms" x="395" y="277"/>
<use href="#ms" x="396" y="277"/>
<use href="#ms" x="397" y="277"/>
<use href="#ms" x="398" y="277"/>
<use href="#ms" x="400" y="277"/>
<use href="#ms" x="401" y="277"/>
<use href="#ms" x="402" y="277"/>
<use href="#ms" x="403" y="277"/>
<use href="#ms" x="405" y="277"/>
<use href="#ms" x="406" y="277"/>
<use href="#ms" x="407" y="277"/>
<use href="#ms" x="408" y="277"/>
<use href="#ms" x="410" y="277"/>
<use href="#ms" x="411" y="277"/>
<use href="#ms" x="412" y="277"/>
<use href="#ms" x="413" y="277"/>
<use href="#ms" x="415" y="277"/>
<use href="#ms" x="416" y="277"/>
<use href="#ms" x="417" y="277"/>
<use href="#ms" x="418" y="277"/>
<use href="#ms" x="420" y="277"/>
<use href="#ms" x="421" y="277"/>
<use href="#ms" x="422" y="277"/>
<use href="#ms" x="423" y="277"/>
<use href="#ms" x="425" y="277"/>
<use href="#ms" x="426" y="277"/>
<use href="#ms" x="427" y="277"/>
<use href="#ms" x="428" y="277"/>
<use href="#ms" x="430" y="277"/>
<use href="#ms" x="431" y="277"/>
<use href="#ms" x="432" y="277"/>
<use href="#ms" x="434" y="277"/>
<rect x="4" y="260" width="1" height="4" fill="#0000ff"/>
<rect x="9" y="264" width="1" height="4" fill="#0000ff"/>
<rect x="14" y="267" width="1" height="5" fill="#0000ff"/>
<rect x="19" y="269" width="1" height="5" fill="#0000ff"/>
<rect x="24" y="271" width="1" height="4" fill="#0000ff"/>
<rect x="29" y="272" width="1" height="4" fill="#0000ff"/>
<rect x="34" y="273" width="1" height="4" fill="#0000ff"/>
<rect x="39" y="274" width="1" height="4" fill="#0000ff"/>
<rect x="44" y="274" width="1" height="5" fill="#0000ff"/>
<rect x="49" y="274" width="1" height="5" fill="#0000ff"/>
<rect x="54" y="275" width="1" height="5" fill="#0000ff"/>
<rect x="59" y="275" width="1" height="5" fill="#0000ff"/>
<rect x="64" y="276" width="1" height="4" fill="#0000ff"/>
<rect x="69" y="276" width="1" height="5" fill="#0000ff"/>
<rect x="74" y="276" width="1" height="5" fill="#0000ff"/>
<rect x="79" y="276" width="1" height="5" fill="#0000ff"/>
<rect x="84" y="276" width="1" height="5" fill="#0000ff"/>
<rect x="89" y="276" width="1" height="5" fill="#0000ff"/>
<rect x="94" y="276" width="1" height="5" fill="#0000ff"/>
<rect x="99" y="276" width="1" height="5" fill="#0000ff"/>
<rect x="104" y="275" width="1" height="5" fill="#0000ff"/>
<rect x="109" y="275" width="1" height="5" fill="#0000ff"/>
<rect x="114" y="275" width="1" height="5" fill="#0000ff"/>
<rect x="119" y="275" width="1" height="5" fill="#0000ff"/>
<rect x="124" y="275" width="1" height="5" fill="#0000ff"/>
<rect x="129" y="275" width="1" height="5" fill="#0000ff"/>
<rect x="134" y="275" width="1" height="5" fill="#0000ff"/>
<rect x="139" y="275" width="1" height="5" fill="#0000ff"/>
<rect x="144" y="275" width="1" height="5" fill="#0000ff"/>
<rect x="149" y="275" width="1" height="5" fill="#0000ff"/>
<rect x="154" y="275" width="1" height="5" fill="#0000ff"/>
<rect x="159" y="275" width="1" height="5" fill="#0000ff"/>
<rect x="164" y="275" width="1" height="5" fill="#0000ff"/>
<rect x="169" y="276" width="1" height="5" fill="#0000ff"/>
<rect x="174" y="276" width="1" height="5" fill="#0000ff"/>
<rect x="179" y="276" width="1" height="5" fill="#0000ff"/>
<rect x="184" y="276" width="1" height="5" fill="#0000ff"/>
<rect x="189" y="276" width="1" height="5" fill="#0000ff"/>
<rect x="194" y="276" width="1" height="5" fill="#0000ff"/>
<rect x="199" y="276" width="1" height="5" fill="#0000ff"/>
<rect x="204" y="275" width="1" height="5" fill="#0000ff"/>
<rect x="209" y="275" width="1" height="5" fill="#0000ff"/>
<rect x="214" y="275" width="1" height="5" fill="#0000ff"/>
<rect x="219" y="275" width="1" height="5" fill="#0000ff"/>
<rect x="224" y="275" width="1" height="5" fill="#0000ff"/>
<rect x="229" y="275" width="1" height="5" fill="#0000ff"/>
<rect x="234" y="275" width="1" height="5" fill="#0000ff"/>
<rect x="239" y="275" width="1" height="5" fill="#0000ff"/>
<rect x="244" y="275" width="1" height="5" fill="#0000ff"/>
<rect x="249" y="275" width="1" height="5" fill="#0000ff"/>
<rect x="254" y="275" width="1" height="4" fill="#0000ff"/>
<rect x="259" y="274" width="1" height="5" fill="#0000ff"/>
<rect x="264" y="274" width="1" height="5" fill="#0000ff"/>
<rect x="269" y="274" width="1" height="5" fill="#0000ff"/>
<rect x="274" y="274" width="1" height="5" fill="#0000ff"/>
<rect x="279" y="275" width="1" height="4" fill="#0000ff"/>
<rect x="284" y="275" width="1" height="5" fill="#0000ff"/>
<rect x="289" y="275" width="1" height="5" fill="#0000ff"/>
<rect x="294" y="275" width="1" height="5" fill="#0000ff"/>
<rect x="299" y="275" width="1" height="5" fill="#0000ff"/>
<rect x="304" y="275" width="1" height="5" fill="#0000ff"/>
<rect x="309" y="275" width="1" height="5" fill="#0000ff"/>
<rect x="314" y="275" width="1" height="5" fill="#0000ff"/>
<rect x="319" y="275" width="1" height="5" fill="#0000ff"/>
<rect x="324" y="275" width="1" height="5" fill="#0000ff"/>
<rect x="329" y="275" width="1" height="5" fill="#0000ff"/>
<rect x="334" y="275" width="1" height="5" fill="#0000ff"/>
<rect x="339" y="275" width="1" height="5" fill="#0000ff"/>
<rect x="344" y="275" width="1" height="5" fill="#0000ff"/>
<rect x="349" y="275" width="1" height="5" fill="#0000ff"/>
<rect x="354" y="275" width="1" height="5" fill="#0000ff"/>
<rect x="359" y="275" width="1" height="5" fill="#0000ff"/>
<rect x="364" y="275" width="1" height="5" fill="#0000ff"/>
<rect x="369" y="275" width="1" height="5" fill="#0000ff"/>
<rect x="374" y="275" width="1" height="5" fill="#0000ff"/>
<rect x="379" y="275" width="1" height="5" fill="#0000ff"/>
<rect x="384" y="275" width="1" height="5" fill="#0000ff"/>
<rect x="389" y="275" width="1" height="5" fill="#0000ff"/>
<rect x="394" y="275" width="1" height="5" fill="#0000ff"/>
<rect x="399" y="275" width="1" height="5" fill="#0000ff"/>
<rect x="404" y="275" width="1" height="5" fill="#0000ff"/>
<rect x="409" y="275" width="1" height="5" fill="#0000ff"/>
<rect x="414" y="275" width="1" height="5" fill="#0000ff"/>
<rect x="419" y="275" width="1" height="5" fill="#0000ff"/>
<rect x="424" y="275" width="1" height="5" fill="#0000ff"/>
<rect x="429" y="275" width="1" height="5" fill="#0000ff"/>
<rect x="433" y="275" width="1" height="5" fill="#0000ff"/>
</g>
</g>
<g id="legend" filter="url(#soft)">
<g transform="translate(262.3,101.5) scale(4.7075)" shape-rendering="crispEdges"><rect x="363" y="11" width="60" height="36" fill="#fff"/><rect x="363" y="11" width="60" height="1" fill="#262626"/><rect x="363" y="46" width="60" height="1" fill="#262626"/><rect x="363" y="11" width="1" height="36" fill="#262626"/><rect x="422" y="11" width="1" height="36" fill="#262626"/></g>
<g transform="translate(262.3,101.5) scale(4.7075)" shape-rendering="crispEdges"><rect x="367" y="20" width="41" height="1" fill="#ff0000"/><use href="#mx" x="387" y="20"/></g>
<g transform="translate(262.3,101.5) scale(4.7075)" shape-rendering="crispEdges"><rect x="367" y="37" width="41" height="1" fill="#0000ff"/><use href="#ms" x="387" y="37"/></g>
<text class="lg" transform="translate(2190.5,223.5) scale(1.04,1.05)">S</text>
<text class="lg" transform="translate(2192.5,298.8) scale(1.04,1.05)">F</text>
</g>
<g id="labels" filter="url(#softt)">
<text class="tk" transform="translate(236,157.89) scale(1,1.05)" text-anchor="end">4</text>
<text class="tk" transform="translate(236,317.95) scale(1,1.05)" text-anchor="end">3.5</text>
<text class="tk" transform="translate(236,478) scale(1,1.05)" text-anchor="end">3</text>
<text class="tk" transform="translate(236,638.06) scale(1,1.05)" text-anchor="end">2.5</text>
<text class="tk" transform="translate(236,798.11) scale(1,1.05)" text-anchor="end">2</text>
<text class="tk" transform="translate(236,958.17) scale(1,1.05)" text-anchor="end">1.5</text>
<text class="tk" transform="translate(236,1118.22) scale(1,1.05)" text-anchor="end">1</text>
<text class="tk" transform="translate(236,1278.28) scale(1,1.05)" text-anchor="end">0.5</text>
<text class="tk" transform="translate(236,1438.33) scale(1,1.05)" text-anchor="end">0</text>
<text class="tk" transform="translate(127.6,1598.39) scale(1,1.05)" text-anchor="start"><tspan dy="1.5">-</tspan><tspan dx="5" dy="-1.5">0.5</tspan></text>
<text class="tk" transform="translate(551.81,1807.5) scale(0.98,1.05)" text-anchor="middle">50</text>
<text class="tk" transform="translate(843.68,1807.5) scale(0.98,1.05)" text-anchor="middle">100</text>
<text class="tk" transform="translate(1140.25,1807.5) scale(0.98,1.05)" text-anchor="middle">150</text>
<text class="tk" transform="translate(1432.11,1807.5) scale(0.98,1.05)" text-anchor="middle">200</text>
<text class="tk" transform="translate(1728.69,1807.5) scale(0.98,1.05)" text-anchor="middle">250</text>
<text class="tk" transform="translate(2020.55,1807.5) scale(0.98,1.05)" text-anchor="middle">300</text>
<text class="tk" transform="translate(268,92) scale(1,1.05)" text-anchor="start"><tspan fill="#5a5a5a">×</tspan><tspan x="45.3" y="-4.5">10</tspan><tspan x="117" y="-31.4" style="font-size:52px">7</tspan></text>
<text class="lb" transform="translate(1282,1899) scale(1,1.05)" text-anchor="middle">Frequency [Hz]</text>
<text class="lb" transform="translate(92.5,908) rotate(-90) scale(1.01,1.04)" text-anchor="middle">Amplitude</text>
</g>
</svg>
</body>
</html>
